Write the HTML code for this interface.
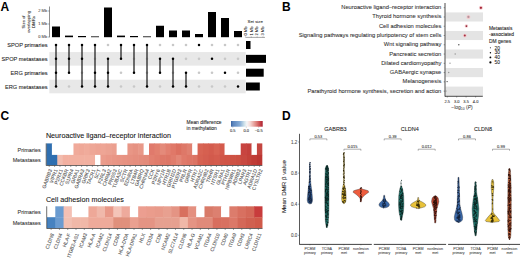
<!DOCTYPE html>
<html><head><meta charset="utf-8"><style>
html,body{margin:0;padding:0;background:#fff;width:520px;height:260px;overflow:hidden;}
body{position:relative;font-family:"Liberation Sans", sans-serif;}
text{font-family:"Liberation Sans", sans-serif;}
</style></head><body>
<svg width="520" height="260" viewBox="0 0 520 260" style="position:absolute;left:0;top:0"><text x="0.50" y="10.80" font-size="12" text-anchor="start" fill="#000" font-weight="bold">A</text>
<text x="282.00" y="11.10" font-size="12" text-anchor="start" fill="#000" font-weight="bold">B</text>
<text x="0.40" y="120.00" font-size="12" text-anchor="start" fill="#000" font-weight="bold">C</text>
<text x="282.00" y="119.80" font-size="12" text-anchor="start" fill="#000" font-weight="bold">D</text>
<line x1="49.50" y1="6.50" x2="49.50" y2="37.30" stroke="#222" stroke-width="0.5"/>
<line x1="47.90" y1="11.00" x2="49.50" y2="11.00" stroke="#333" stroke-width="0.4"/>
<text x="47.20" y="12.44" font-size="4" text-anchor="end" fill="#4d4d4d" stroke="#4d4d4d" stroke-width="0.08">2 Mb</text>
<line x1="47.90" y1="24.00" x2="49.50" y2="24.00" stroke="#333" stroke-width="0.4"/>
<text x="47.20" y="25.44" font-size="4" text-anchor="end" fill="#4d4d4d" stroke="#4d4d4d" stroke-width="0.08">1 Mb</text>
<line x1="47.90" y1="37.00" x2="49.50" y2="37.00" stroke="#333" stroke-width="0.4"/>
<text x="47.20" y="38.44" font-size="4" text-anchor="end" fill="#4d4d4d" stroke="#4d4d4d" stroke-width="0.08">0 Mb</text>
<text x="24.80" y="22.00" font-size="4.3" text-anchor="middle" fill="#333" stroke="#333" stroke-width="0.08" transform="rotate(-90 24.80 22.00)">Size of</text>
<text x="29.90" y="22.00" font-size="4.3" text-anchor="middle" fill="#333" stroke="#333" stroke-width="0.08" transform="rotate(-90 29.90 22.00)">overlapping</text>
<text x="35.40" y="22.00" font-size="4.3" text-anchor="middle" fill="#333" stroke="#333" stroke-width="0.08" transform="rotate(-90 35.40 22.00)">DMRs</text>
<rect x="52.00" y="26.50" width="8.00" height="10.70" fill="#000"/>
<rect x="65.00" y="35.60" width="8.00" height="1.60" fill="#000"/>
<rect x="78.00" y="36.00" width="8.00" height="1.20" fill="#000"/>
<rect x="91.00" y="36.40" width="8.00" height="0.80" fill="#000"/>
<rect x="104.00" y="7.50" width="8.00" height="29.70" fill="#000"/>
<rect x="117.00" y="35.60" width="8.00" height="1.60" fill="#000"/>
<rect x="130.00" y="36.00" width="8.00" height="1.20" fill="#000"/>
<rect x="143.00" y="36.40" width="8.00" height="0.80" fill="#000"/>
<rect x="156.00" y="25.75" width="8.00" height="11.45" fill="#000"/>
<rect x="169.00" y="30.50" width="8.00" height="6.70" fill="#000"/>
<rect x="182.00" y="30.50" width="8.00" height="6.70" fill="#000"/>
<rect x="195.00" y="34.00" width="8.00" height="3.20" fill="#000"/>
<rect x="208.00" y="12.00" width="8.00" height="25.20" fill="#000"/>
<rect x="221.00" y="18.00" width="8.00" height="19.20" fill="#000"/>
<rect x="234.00" y="31.00" width="8.00" height="6.20" fill="#000"/>
<rect x="49.30" y="52.05" width="196.40" height="13.60" fill="#e8e8e8"/>
<rect x="49.30" y="79.70" width="196.40" height="13.60" fill="#e8e8e8"/>
<line x1="56.00" y1="45.00" x2="56.00" y2="86.50" stroke="#1e1e1e" stroke-width="1.25"/>
<circle cx="56.00" cy="45.00" r="1.25" fill="#000"/>
<circle cx="56.00" cy="58.85" r="1.25" fill="#000"/>
<circle cx="56.00" cy="72.70" r="1.25" fill="#000"/>
<circle cx="56.00" cy="86.50" r="1.25" fill="#000"/>
<circle cx="69.00" cy="86.50" r="1.30" fill="#c8c8c8"/>
<line x1="69.00" y1="45.00" x2="69.00" y2="72.70" stroke="#1e1e1e" stroke-width="1.25"/>
<circle cx="69.00" cy="45.00" r="1.25" fill="#000"/>
<circle cx="69.00" cy="58.85" r="1.25" fill="#000"/>
<circle cx="69.00" cy="72.70" r="1.25" fill="#000"/>
<circle cx="82.00" cy="72.70" r="1.30" fill="#c8c8c8"/>
<line x1="82.00" y1="45.00" x2="82.00" y2="86.50" stroke="#1e1e1e" stroke-width="1.25"/>
<circle cx="82.00" cy="45.00" r="1.25" fill="#000"/>
<circle cx="82.00" cy="58.85" r="1.25" fill="#000"/>
<circle cx="82.00" cy="86.50" r="1.25" fill="#000"/>
<circle cx="95.00" cy="58.85" r="1.30" fill="#c8c8c8"/>
<line x1="95.00" y1="45.00" x2="95.00" y2="86.50" stroke="#1e1e1e" stroke-width="1.25"/>
<circle cx="95.00" cy="45.00" r="1.25" fill="#000"/>
<circle cx="95.00" cy="72.70" r="1.25" fill="#000"/>
<circle cx="95.00" cy="86.50" r="1.25" fill="#000"/>
<circle cx="108.00" cy="45.00" r="1.30" fill="#c8c8c8"/>
<line x1="108.00" y1="58.85" x2="108.00" y2="86.50" stroke="#1e1e1e" stroke-width="1.25"/>
<circle cx="108.00" cy="58.85" r="1.25" fill="#000"/>
<circle cx="108.00" cy="72.70" r="1.25" fill="#000"/>
<circle cx="108.00" cy="86.50" r="1.25" fill="#000"/>
<circle cx="121.00" cy="72.70" r="1.30" fill="#c8c8c8"/>
<circle cx="121.00" cy="86.50" r="1.30" fill="#c8c8c8"/>
<line x1="121.00" y1="45.00" x2="121.00" y2="58.85" stroke="#1e1e1e" stroke-width="1.25"/>
<circle cx="121.00" cy="45.00" r="1.25" fill="#000"/>
<circle cx="121.00" cy="58.85" r="1.25" fill="#000"/>
<circle cx="134.00" cy="58.85" r="1.30" fill="#c8c8c8"/>
<circle cx="134.00" cy="86.50" r="1.30" fill="#c8c8c8"/>
<line x1="134.00" y1="45.00" x2="134.00" y2="72.70" stroke="#1e1e1e" stroke-width="1.25"/>
<circle cx="134.00" cy="45.00" r="1.25" fill="#000"/>
<circle cx="134.00" cy="72.70" r="1.25" fill="#000"/>
<circle cx="147.00" cy="58.85" r="1.30" fill="#c8c8c8"/>
<circle cx="147.00" cy="72.70" r="1.30" fill="#c8c8c8"/>
<line x1="147.00" y1="45.00" x2="147.00" y2="86.50" stroke="#1e1e1e" stroke-width="1.25"/>
<circle cx="147.00" cy="45.00" r="1.25" fill="#000"/>
<circle cx="147.00" cy="86.50" r="1.25" fill="#000"/>
<circle cx="160.00" cy="45.00" r="1.30" fill="#c8c8c8"/>
<circle cx="160.00" cy="86.50" r="1.30" fill="#c8c8c8"/>
<line x1="160.00" y1="58.85" x2="160.00" y2="72.70" stroke="#1e1e1e" stroke-width="1.25"/>
<circle cx="160.00" cy="58.85" r="1.25" fill="#000"/>
<circle cx="160.00" cy="72.70" r="1.25" fill="#000"/>
<circle cx="173.00" cy="45.00" r="1.30" fill="#c8c8c8"/>
<circle cx="173.00" cy="72.70" r="1.30" fill="#c8c8c8"/>
<line x1="173.00" y1="58.85" x2="173.00" y2="86.50" stroke="#1e1e1e" stroke-width="1.25"/>
<circle cx="173.00" cy="58.85" r="1.25" fill="#000"/>
<circle cx="173.00" cy="86.50" r="1.25" fill="#000"/>
<circle cx="186.00" cy="45.00" r="1.30" fill="#c8c8c8"/>
<circle cx="186.00" cy="58.85" r="1.30" fill="#c8c8c8"/>
<line x1="186.00" y1="72.70" x2="186.00" y2="86.50" stroke="#1e1e1e" stroke-width="1.25"/>
<circle cx="186.00" cy="72.70" r="1.25" fill="#000"/>
<circle cx="186.00" cy="86.50" r="1.25" fill="#000"/>
<circle cx="199.00" cy="58.85" r="1.30" fill="#c8c8c8"/>
<circle cx="199.00" cy="72.70" r="1.30" fill="#c8c8c8"/>
<circle cx="199.00" cy="86.50" r="1.30" fill="#c8c8c8"/>
<circle cx="199.00" cy="45.00" r="1.25" fill="#000"/>
<circle cx="212.00" cy="45.00" r="1.30" fill="#c8c8c8"/>
<circle cx="212.00" cy="72.70" r="1.30" fill="#c8c8c8"/>
<circle cx="212.00" cy="86.50" r="1.30" fill="#c8c8c8"/>
<circle cx="212.00" cy="58.85" r="1.25" fill="#000"/>
<circle cx="225.00" cy="45.00" r="1.30" fill="#c8c8c8"/>
<circle cx="225.00" cy="58.85" r="1.30" fill="#c8c8c8"/>
<circle cx="225.00" cy="86.50" r="1.30" fill="#c8c8c8"/>
<circle cx="225.00" cy="72.70" r="1.25" fill="#000"/>
<circle cx="238.00" cy="45.00" r="1.30" fill="#c8c8c8"/>
<circle cx="238.00" cy="58.85" r="1.30" fill="#c8c8c8"/>
<circle cx="238.00" cy="72.70" r="1.30" fill="#c8c8c8"/>
<circle cx="238.00" cy="86.50" r="1.25" fill="#000"/>
<text x="47.60" y="47.03" font-size="5.65" text-anchor="end" fill="#222" stroke="#222" stroke-width="0.08">SPOP primaries</text>
<text x="47.60" y="60.88" font-size="5.65" text-anchor="end" fill="#222" stroke="#222" stroke-width="0.08">SPOP metastases</text>
<text x="47.60" y="74.73" font-size="5.65" text-anchor="end" fill="#222" stroke="#222" stroke-width="0.08">ERG primaries</text>
<text x="47.60" y="88.53" font-size="5.65" text-anchor="end" fill="#222" stroke="#222" stroke-width="0.08">ERG metastases</text>
<rect x="246.00" y="41.00" width="4.50" height="8.00" fill="#000"/>
<rect x="246.00" y="54.85" width="20.00" height="8.00" fill="#000"/>
<rect x="246.00" y="68.70" width="17.70" height="8.00" fill="#000"/>
<rect x="246.00" y="82.50" width="13.80" height="8.00" fill="#000"/>
<line x1="245.60" y1="37.40" x2="265.00" y2="37.40" stroke="#222" stroke-width="0.4"/>
<line x1="245.40" y1="36.40" x2="245.40" y2="37.40" stroke="#222" stroke-width="0.3"/>
<text x="246.80" y="35.60" font-size="4.1" text-anchor="start" fill="#333" stroke="#333" stroke-width="0.08" transform="rotate(-90 246.80 35.60)">0 Mb</text>
<line x1="251.25" y1="36.40" x2="251.25" y2="37.40" stroke="#222" stroke-width="0.3"/>
<text x="252.65" y="35.60" font-size="4.1" text-anchor="start" fill="#333" stroke="#333" stroke-width="0.08" transform="rotate(-90 252.65 35.60)">1 Mb</text>
<line x1="257.10" y1="36.40" x2="257.10" y2="37.40" stroke="#222" stroke-width="0.3"/>
<text x="258.50" y="35.60" font-size="4.1" text-anchor="start" fill="#333" stroke="#333" stroke-width="0.08" transform="rotate(-90 258.50 35.60)">2 Mb</text>
<line x1="262.95" y1="36.40" x2="262.95" y2="37.40" stroke="#222" stroke-width="0.3"/>
<text x="264.35" y="35.60" font-size="4.1" text-anchor="start" fill="#333" stroke="#333" stroke-width="0.08" transform="rotate(-90 264.35 35.60)">3 Mb</text>
<text x="247.60" y="22.64" font-size="4.27" text-anchor="start" fill="#333" stroke="#333" stroke-width="0.08">Set size</text>
<rect x="445.40" y="12.42" width="37.60" height="9.10" fill="#e4e4e4"/>
<rect x="445.40" y="30.96" width="37.60" height="9.10" fill="#e4e4e4"/>
<rect x="445.40" y="49.50" width="37.60" height="9.10" fill="#e4e4e4"/>
<rect x="445.40" y="68.04" width="37.60" height="9.10" fill="#e4e4e4"/>
<rect x="445.40" y="86.58" width="37.60" height="9.62" fill="#e4e4e4"/>
<text x="441.30" y="9.17" font-size="5.75" text-anchor="end" fill="#333" stroke="#333" stroke-width="0.08">Neuroactive ligand–receptor interaction</text>
<line x1="443.60" y1="7.70" x2="445.00" y2="7.70" stroke="#333" stroke-width="0.4"/>
<text x="441.30" y="18.44" font-size="5.75" text-anchor="end" fill="#333" stroke="#333" stroke-width="0.08">Thyroid hormone synthesis</text>
<line x1="443.60" y1="16.97" x2="445.00" y2="16.97" stroke="#333" stroke-width="0.4"/>
<text x="441.30" y="27.71" font-size="5.75" text-anchor="end" fill="#333" stroke="#333" stroke-width="0.08">Cell adhesion molecules</text>
<line x1="443.60" y1="26.24" x2="445.00" y2="26.24" stroke="#333" stroke-width="0.4"/>
<text x="441.30" y="36.98" font-size="5.75" text-anchor="end" fill="#333" stroke="#333" stroke-width="0.08">Signaling pathways regulating pluripotency of stem cells</text>
<line x1="443.60" y1="35.51" x2="445.00" y2="35.51" stroke="#333" stroke-width="0.4"/>
<text x="441.30" y="46.25" font-size="5.75" text-anchor="end" fill="#333" stroke="#333" stroke-width="0.08">Wnt signaling pathway</text>
<line x1="443.60" y1="44.78" x2="445.00" y2="44.78" stroke="#333" stroke-width="0.4"/>
<text x="441.30" y="55.52" font-size="5.75" text-anchor="end" fill="#333" stroke="#333" stroke-width="0.08">Pancreatic secretion</text>
<line x1="443.60" y1="54.05" x2="445.00" y2="54.05" stroke="#333" stroke-width="0.4"/>
<text x="441.30" y="64.79" font-size="5.75" text-anchor="end" fill="#333" stroke="#333" stroke-width="0.08">Dilated cardiomyopathy</text>
<line x1="443.60" y1="63.32" x2="445.00" y2="63.32" stroke="#333" stroke-width="0.4"/>
<text x="441.30" y="74.06" font-size="5.75" text-anchor="end" fill="#333" stroke="#333" stroke-width="0.08">GABAergic synapse</text>
<line x1="443.60" y1="72.59" x2="445.00" y2="72.59" stroke="#333" stroke-width="0.4"/>
<text x="441.30" y="83.33" font-size="5.75" text-anchor="end" fill="#333" stroke="#333" stroke-width="0.08">Melanogenesis</text>
<line x1="443.60" y1="81.86" x2="445.00" y2="81.86" stroke="#333" stroke-width="0.4"/>
<text x="441.30" y="92.60" font-size="5.75" text-anchor="end" fill="#333" stroke="#333" stroke-width="0.08">Parathyroid hormone synthesis, secretion and action</text>
<line x1="443.60" y1="91.13" x2="445.00" y2="91.13" stroke="#333" stroke-width="0.4"/>
<line x1="445.00" y1="3.00" x2="445.00" y2="96.60" stroke="#111" stroke-width="0.75"/>
<line x1="445.00" y1="96.30" x2="482.80" y2="96.30" stroke="#111" stroke-width="0.75"/>
<line x1="447.30" y1="96.20" x2="447.30" y2="97.60" stroke="#333" stroke-width="0.4"/>
<text x="447.30" y="102.84" font-size="4.0" text-anchor="middle" fill="#333" stroke="#333" stroke-width="0.08">2.5</text>
<line x1="456.70" y1="96.20" x2="456.70" y2="97.60" stroke="#333" stroke-width="0.4"/>
<text x="456.70" y="102.84" font-size="4.0" text-anchor="middle" fill="#333" stroke="#333" stroke-width="0.08">3.0</text>
<line x1="466.10" y1="96.20" x2="466.10" y2="97.60" stroke="#333" stroke-width="0.4"/>
<text x="466.10" y="102.84" font-size="4.0" text-anchor="middle" fill="#333" stroke="#333" stroke-width="0.08">3.5</text>
<line x1="475.60" y1="96.20" x2="475.60" y2="97.60" stroke="#333" stroke-width="0.4"/>
<text x="475.60" y="102.84" font-size="4.0" text-anchor="middle" fill="#333" stroke="#333" stroke-width="0.08">4.0</text>
<text x="462" y="109.10" font-size="5" text-anchor="middle" fill="#222">−log<tspan font-size="3.4" dy="1">10</tspan><tspan dy="-1"> (</tspan><tspan font-style="italic">P</tspan>)</text>
<circle cx="480.90" cy="7.80" r="2.00" fill="#f4c8cc"/>
<circle cx="468.40" cy="16.90" r="2.00" fill="#f4c8cc"/>
<circle cx="466.40" cy="26.10" r="1.75" fill="#f4c8cc"/>
<circle cx="464.80" cy="35.60" r="1.90" fill="#f4c8cc"/>
<circle cx="480.90" cy="7.80" r="1.10" fill="#a42636"/>
<circle cx="468.40" cy="16.90" r="1.10" fill="#b4949c"/>
<circle cx="466.40" cy="26.10" r="0.85" fill="#8c2232"/>
<circle cx="464.80" cy="35.60" r="1.00" fill="#a03040"/>
<circle cx="458.80" cy="44.80" r="0.75" fill="#555"/>
<circle cx="455.20" cy="54.00" r="0.75" fill="#999"/>
<circle cx="450.00" cy="63.20" r="0.65" fill="#888"/>
<circle cx="448.70" cy="72.50" r="0.75" fill="#999"/>
<circle cx="447.10" cy="81.60" r="0.60" fill="#333"/>
<circle cx="446.00" cy="91.00" r="0.50" fill="#666"/>
<text x="489.00" y="29.76" font-size="4.9" text-anchor="start" fill="#222" stroke="#222" stroke-width="0.08">Metastasis</text>
<text x="489.00" y="35.56" font-size="4.9" text-anchor="start" fill="#222" stroke="#222" stroke-width="0.08">-associated</text>
<text x="489.00" y="42.66" font-size="4.9" text-anchor="start" fill="#222" stroke="#222" stroke-width="0.08">DM genes</text>
<circle cx="490.40" cy="47.80" r="0.50" fill="#000"/>
<text x="494.60" y="49.56" font-size="4.9" text-anchor="start" fill="#222" stroke="#222" stroke-width="0.08">20</text>
<circle cx="490.40" cy="52.70" r="0.70" fill="#000"/>
<text x="494.60" y="54.46" font-size="4.9" text-anchor="start" fill="#222" stroke="#222" stroke-width="0.08">30</text>
<circle cx="490.40" cy="57.40" r="0.90" fill="#000"/>
<text x="494.60" y="59.16" font-size="4.9" text-anchor="start" fill="#222" stroke="#222" stroke-width="0.08">40</text>
<circle cx="490.40" cy="62.40" r="1.10" fill="#000"/>
<text x="494.60" y="64.16" font-size="4.9" text-anchor="start" fill="#222" stroke="#222" stroke-width="0.08">50</text>
<text x="186.60" y="123.56" font-size="4.9" text-anchor="start" fill="#222" stroke="#222" stroke-width="0.08">Mean difference</text>
<text x="186.60" y="130.16" font-size="4.9" text-anchor="start" fill="#222" stroke="#222" stroke-width="0.08">in methylation</text>
<defs><linearGradient id="gr" x1="0" x2="1" y1="0" y2="0"><stop offset="0" stop-color="#3a62a0"/><stop offset="0.06" stop-color="#5a84bc"/><stop offset="0.28" stop-color="#86acd6"/><stop offset="0.42" stop-color="#cfe2ea"/><stop offset="0.5" stop-color="#f6f6f8"/><stop offset="0.6" stop-color="#f6dcd8"/><stop offset="0.78" stop-color="#e08a84"/><stop offset="0.92" stop-color="#c84448"/><stop offset="1" stop-color="#a82030"/></linearGradient></defs>
<rect x="231.00" y="121.00" width="31.70" height="5.70" fill="url(#gr)"/>
<line x1="232.80" y1="126.70" x2="232.80" y2="127.60" stroke="#333" stroke-width="0.3"/>
<text x="232.80" y="132.24" font-size="4.0" text-anchor="middle" fill="#333" stroke="#333" stroke-width="0.08">0.5</text>
<line x1="246.30" y1="126.70" x2="246.30" y2="127.60" stroke="#333" stroke-width="0.3"/>
<text x="246.30" y="132.24" font-size="4.0" text-anchor="middle" fill="#333" stroke="#333" stroke-width="0.08">0.0</text>
<line x1="258.70" y1="126.70" x2="258.70" y2="127.60" stroke="#333" stroke-width="0.3"/>
<text x="258.70" y="132.24" font-size="4.0" text-anchor="middle" fill="#333" stroke="#333" stroke-width="0.08">−0.5</text>
<rect x="46.50" y="143.40" width="6.00" height="11.80" fill="#2f6fb0"/>
<rect x="46.50" y="154.90" width="6.00" height="10.30" fill="#2f6fb0"/>
<rect x="51.90" y="143.40" width="6.00" height="11.80" fill="#ffffff"/>
<rect x="51.90" y="154.90" width="6.00" height="10.30" fill="#2f6fb0"/>
<rect x="57.29" y="143.40" width="6.00" height="11.80" fill="#ffffff"/>
<rect x="57.29" y="154.90" width="6.00" height="10.30" fill="#f2bcae"/>
<rect x="62.69" y="143.40" width="6.00" height="11.80" fill="#ffffff"/>
<rect x="62.69" y="154.90" width="6.00" height="10.30" fill="#f2b0a0"/>
<rect x="68.08" y="143.40" width="6.00" height="11.80" fill="#ffffff"/>
<rect x="68.08" y="154.90" width="6.00" height="10.30" fill="#f2b0a0"/>
<rect x="73.47" y="143.40" width="6.00" height="11.80" fill="#f0aa9a"/>
<rect x="73.47" y="154.90" width="6.00" height="10.30" fill="#f2b0a0"/>
<rect x="78.87" y="143.40" width="6.00" height="11.80" fill="#efa898"/>
<rect x="78.87" y="154.90" width="6.00" height="10.30" fill="#f2b0a0"/>
<rect x="84.27" y="143.40" width="6.00" height="11.80" fill="#f0ab9b"/>
<rect x="84.27" y="154.90" width="6.00" height="10.30" fill="#f2b0a0"/>
<rect x="89.66" y="143.40" width="6.00" height="11.80" fill="#eea696"/>
<rect x="89.66" y="154.90" width="6.00" height="10.30" fill="#f2b0a0"/>
<rect x="95.06" y="143.40" width="6.00" height="11.80" fill="#eda393"/>
<rect x="95.06" y="154.90" width="6.00" height="10.30" fill="#ffffff"/>
<rect x="100.45" y="143.40" width="6.00" height="11.80" fill="#eea595"/>
<rect x="100.45" y="154.90" width="6.00" height="10.30" fill="#eb9c8c"/>
<rect x="105.84" y="143.40" width="6.00" height="11.80" fill="#eca292"/>
<rect x="105.84" y="154.90" width="6.00" height="10.30" fill="#ea9888"/>
<rect x="111.24" y="143.40" width="6.00" height="11.80" fill="#eb9f8f"/>
<rect x="111.24" y="154.90" width="6.00" height="10.30" fill="#e99686"/>
<rect x="116.64" y="143.40" width="6.00" height="11.80" fill="#ffffff"/>
<rect x="116.64" y="154.90" width="6.00" height="10.30" fill="#e89484"/>
<rect x="122.03" y="143.40" width="6.00" height="11.80" fill="#ffffff"/>
<rect x="122.03" y="154.90" width="6.00" height="10.30" fill="#e79282"/>
<rect x="127.43" y="143.40" width="6.00" height="11.80" fill="#e89686"/>
<rect x="127.43" y="154.90" width="6.00" height="10.30" fill="#e69080"/>
<rect x="132.82" y="143.40" width="6.00" height="11.80" fill="#e69282"/>
<rect x="132.82" y="154.90" width="6.00" height="10.30" fill="#e58e7e"/>
<rect x="138.22" y="143.40" width="6.00" height="11.80" fill="#e89888"/>
<rect x="138.22" y="154.90" width="6.00" height="10.30" fill="#e48c7c"/>
<rect x="143.61" y="143.40" width="6.00" height="11.80" fill="#ffffff"/>
<rect x="143.61" y="154.90" width="6.00" height="10.30" fill="#e38a7a"/>
<rect x="149.00" y="143.40" width="6.00" height="11.80" fill="#e07a6c"/>
<rect x="149.00" y="154.90" width="6.00" height="10.30" fill="#e28070"/>
<rect x="154.40" y="143.40" width="6.00" height="11.80" fill="#e2806f"/>
<rect x="154.40" y="154.90" width="6.00" height="10.30" fill="#e07c6c"/>
<rect x="159.80" y="143.40" width="6.00" height="11.80" fill="#e48a7a"/>
<rect x="159.80" y="154.90" width="6.00" height="10.30" fill="#de7868"/>
<rect x="165.19" y="143.40" width="6.00" height="11.80" fill="#e28070"/>
<rect x="165.19" y="154.90" width="6.00" height="10.30" fill="#dd7666"/>
<rect x="170.59" y="143.40" width="6.00" height="11.80" fill="#e07868"/>
<rect x="170.59" y="154.90" width="6.00" height="10.30" fill="#e07c6c"/>
<rect x="175.98" y="143.40" width="6.00" height="11.80" fill="#dc7060"/>
<rect x="175.98" y="154.90" width="6.00" height="10.30" fill="#e38676"/>
<rect x="181.38" y="143.40" width="6.00" height="11.80" fill="#de7868"/>
<rect x="181.38" y="154.90" width="6.00" height="10.30" fill="#e07a6a"/>
<rect x="186.77" y="143.40" width="6.00" height="11.80" fill="#e08070"/>
<rect x="186.77" y="154.90" width="6.00" height="10.30" fill="#de7666"/>
<rect x="192.17" y="143.40" width="6.00" height="11.80" fill="#ffffff"/>
<rect x="192.17" y="154.90" width="6.00" height="10.30" fill="#dc7464"/>
<rect x="197.56" y="143.40" width="6.00" height="11.80" fill="#d86454"/>
<rect x="197.56" y="154.90" width="6.00" height="10.30" fill="#d66252"/>
<rect x="202.96" y="143.40" width="6.00" height="11.80" fill="#d66050"/>
<rect x="202.96" y="154.90" width="6.00" height="10.30" fill="#d45e50"/>
<rect x="208.35" y="143.40" width="6.00" height="11.80" fill="#d45c4e"/>
<rect x="208.35" y="154.90" width="6.00" height="10.30" fill="#d25a4c"/>
<rect x="213.75" y="143.40" width="6.00" height="11.80" fill="#d86454"/>
<rect x="213.75" y="154.90" width="6.00" height="10.30" fill="#d45c4e"/>
<rect x="219.14" y="143.40" width="6.00" height="11.80" fill="#d45a4c"/>
<rect x="219.14" y="154.90" width="6.00" height="10.30" fill="#d05648"/>
<rect x="224.54" y="143.40" width="6.00" height="11.80" fill="#ffffff"/>
<rect x="224.54" y="154.90" width="6.00" height="10.30" fill="#d05446"/>
<rect x="229.93" y="143.40" width="6.00" height="11.80" fill="#ffffff"/>
<rect x="229.93" y="154.90" width="6.00" height="10.30" fill="#ce5244"/>
<rect x="235.33" y="143.40" width="6.00" height="11.80" fill="#ffffff"/>
<rect x="235.33" y="154.90" width="6.00" height="10.30" fill="#cc5042"/>
<rect x="240.72" y="143.40" width="6.00" height="11.80" fill="#c84440"/>
<rect x="240.72" y="154.90" width="6.00" height="10.30" fill="#c84840"/>
<rect x="246.12" y="143.40" width="6.00" height="11.80" fill="#c4403c"/>
<rect x="246.12" y="154.90" width="6.00" height="10.30" fill="#c4423a"/>
<rect x="251.51" y="143.40" width="6.00" height="11.80" fill="#ffffff"/>
<rect x="251.51" y="154.90" width="6.00" height="10.30" fill="#c03c36"/>
<rect x="256.91" y="143.40" width="5.40" height="11.80" fill="#c44640"/>
<rect x="256.91" y="154.90" width="5.40" height="10.30" fill="#bc3632"/>
<line x1="46.20" y1="143.40" x2="46.20" y2="165.50" stroke="#111" stroke-width="0.6"/>
<line x1="46.20" y1="165.50" x2="262.30" y2="165.50" stroke="#111" stroke-width="0.6"/>
<line x1="49.20" y1="165.50" x2="49.20" y2="167.00" stroke="#333" stroke-width="0.45"/>
<text x="52.20" y="169.90" font-size="5.0" text-anchor="end" fill="#555" stroke="#555" stroke-width="0.08" transform="rotate(-70 52.20 169.90)">GABRB3</text>
<line x1="54.59" y1="165.50" x2="54.59" y2="167.00" stroke="#333" stroke-width="0.45"/>
<text x="57.59" y="169.90" font-size="5.0" text-anchor="end" fill="#555" stroke="#555" stroke-width="0.08" transform="rotate(-70 57.59 169.90)">VIPR1</text>
<line x1="59.99" y1="165.50" x2="59.99" y2="167.00" stroke="#333" stroke-width="0.45"/>
<text x="62.99" y="169.90" font-size="5.0" text-anchor="end" fill="#555" stroke="#555" stroke-width="0.08" transform="rotate(-70 62.99 169.90)">P2RX1</text>
<line x1="65.38" y1="165.50" x2="65.38" y2="167.00" stroke="#333" stroke-width="0.45"/>
<text x="68.38" y="169.90" font-size="5.0" text-anchor="end" fill="#555" stroke="#555" stroke-width="0.08" transform="rotate(-70 68.38 169.90)">CCKBR</text>
<line x1="70.78" y1="165.50" x2="70.78" y2="167.00" stroke="#333" stroke-width="0.45"/>
<text x="73.78" y="169.90" font-size="5.0" text-anchor="end" fill="#555" stroke="#555" stroke-width="0.08" transform="rotate(-70 73.78 169.90)">S1PR4</text>
<line x1="76.17" y1="165.50" x2="76.17" y2="167.00" stroke="#333" stroke-width="0.45"/>
<text x="79.17" y="169.90" font-size="5.0" text-anchor="end" fill="#555" stroke="#555" stroke-width="0.08" transform="rotate(-70 79.17 169.90)">GRIA1</text>
<line x1="81.57" y1="165.50" x2="81.57" y2="167.00" stroke="#333" stroke-width="0.45"/>
<text x="84.57" y="169.90" font-size="5.0" text-anchor="end" fill="#555" stroke="#555" stroke-width="0.08" transform="rotate(-70 84.57 169.90)">GABRA3</text>
<line x1="86.96" y1="165.50" x2="86.96" y2="167.00" stroke="#333" stroke-width="0.45"/>
<text x="89.96" y="169.90" font-size="5.0" text-anchor="end" fill="#555" stroke="#555" stroke-width="0.08" transform="rotate(-70 89.96 169.90)">GRIK3</text>
<line x1="92.36" y1="165.50" x2="92.36" y2="167.00" stroke="#333" stroke-width="0.45"/>
<text x="95.36" y="169.90" font-size="5.0" text-anchor="end" fill="#555" stroke="#555" stroke-width="0.08" transform="rotate(-70 95.36 169.90)">TACR1</text>
<line x1="97.75" y1="165.50" x2="97.75" y2="167.00" stroke="#333" stroke-width="0.45"/>
<text x="100.75" y="169.90" font-size="5.0" text-anchor="end" fill="#555" stroke="#555" stroke-width="0.08" transform="rotate(-70 100.75 169.90)">SCT</text>
<line x1="103.15" y1="165.50" x2="103.15" y2="167.00" stroke="#333" stroke-width="0.45"/>
<text x="106.15" y="169.90" font-size="5.0" text-anchor="end" fill="#555" stroke="#555" stroke-width="0.08" transform="rotate(-70 106.15 169.90)">F2RL3</text>
<line x1="108.54" y1="165.50" x2="108.54" y2="167.00" stroke="#333" stroke-width="0.45"/>
<text x="111.54" y="169.90" font-size="5.0" text-anchor="end" fill="#555" stroke="#555" stroke-width="0.08" transform="rotate(-70 111.54 169.90)">CHRM2</text>
<line x1="113.94" y1="165.50" x2="113.94" y2="167.00" stroke="#333" stroke-width="0.45"/>
<text x="116.94" y="169.90" font-size="5.0" text-anchor="end" fill="#555" stroke="#555" stroke-width="0.08" transform="rotate(-70 116.94 169.90)">PRSS3</text>
<line x1="119.33" y1="165.50" x2="119.33" y2="167.00" stroke="#333" stroke-width="0.45"/>
<text x="122.33" y="169.90" font-size="5.0" text-anchor="end" fill="#555" stroke="#555" stroke-width="0.08" transform="rotate(-70 122.33 169.90)">TUBA3C</text>
<line x1="124.73" y1="165.50" x2="124.73" y2="167.00" stroke="#333" stroke-width="0.45"/>
<text x="127.73" y="169.90" font-size="5.0" text-anchor="end" fill="#555" stroke="#555" stroke-width="0.08" transform="rotate(-70 127.73 169.90)">SCTR</text>
<line x1="130.12" y1="165.50" x2="130.12" y2="167.00" stroke="#333" stroke-width="0.45"/>
<text x="133.12" y="169.90" font-size="5.0" text-anchor="end" fill="#555" stroke="#555" stroke-width="0.08" transform="rotate(-70 133.12 169.90)">EDNRA</text>
<line x1="135.52" y1="165.50" x2="135.52" y2="167.00" stroke="#333" stroke-width="0.45"/>
<text x="138.52" y="169.90" font-size="5.0" text-anchor="end" fill="#555" stroke="#555" stroke-width="0.08" transform="rotate(-70 138.52 169.90)">LTB4R</text>
<line x1="140.91" y1="165.50" x2="140.91" y2="167.00" stroke="#333" stroke-width="0.45"/>
<text x="143.91" y="169.90" font-size="5.0" text-anchor="end" fill="#555" stroke="#555" stroke-width="0.08" transform="rotate(-70 143.91 169.90)">GABRQ</text>
<line x1="146.31" y1="165.50" x2="146.31" y2="167.00" stroke="#333" stroke-width="0.45"/>
<text x="149.31" y="169.90" font-size="5.0" text-anchor="end" fill="#555" stroke="#555" stroke-width="0.08" transform="rotate(-70 149.31 169.90)">CHRNA4</text>
<line x1="151.70" y1="165.50" x2="151.70" y2="167.00" stroke="#333" stroke-width="0.45"/>
<text x="154.70" y="169.90" font-size="5.0" text-anchor="end" fill="#555" stroke="#555" stroke-width="0.08" transform="rotate(-70 154.70 169.90)">CCK</text>
<line x1="157.10" y1="165.50" x2="157.10" y2="167.00" stroke="#333" stroke-width="0.45"/>
<text x="160.10" y="169.90" font-size="5.0" text-anchor="end" fill="#555" stroke="#555" stroke-width="0.08" transform="rotate(-70 160.10 169.90)">P2RY6</text>
<line x1="162.49" y1="165.50" x2="162.49" y2="167.00" stroke="#333" stroke-width="0.45"/>
<text x="165.49" y="169.90" font-size="5.0" text-anchor="end" fill="#555" stroke="#555" stroke-width="0.08" transform="rotate(-70 165.49 169.90)">NPY1R</text>
<line x1="167.89" y1="165.50" x2="167.89" y2="167.00" stroke="#333" stroke-width="0.45"/>
<text x="170.89" y="169.90" font-size="5.0" text-anchor="end" fill="#555" stroke="#555" stroke-width="0.08" transform="rotate(-70 170.89 169.90)">HTR1B</text>
<line x1="173.28" y1="165.50" x2="173.28" y2="167.00" stroke="#333" stroke-width="0.45"/>
<text x="176.28" y="169.90" font-size="5.0" text-anchor="end" fill="#555" stroke="#555" stroke-width="0.08" transform="rotate(-70 176.28 169.90)">GRIN2D</text>
<line x1="178.68" y1="165.50" x2="178.68" y2="167.00" stroke="#333" stroke-width="0.45"/>
<text x="181.68" y="169.90" font-size="5.0" text-anchor="end" fill="#555" stroke="#555" stroke-width="0.08" transform="rotate(-70 181.68 169.90)">PTGER3</text>
<line x1="184.07" y1="165.50" x2="184.07" y2="167.00" stroke="#333" stroke-width="0.45"/>
<text x="187.07" y="169.90" font-size="5.0" text-anchor="end" fill="#555" stroke="#555" stroke-width="0.08" transform="rotate(-70 187.07 169.90)">PRLR</text>
<line x1="189.47" y1="165.50" x2="189.47" y2="167.00" stroke="#333" stroke-width="0.45"/>
<text x="192.47" y="169.90" font-size="5.0" text-anchor="end" fill="#555" stroke="#555" stroke-width="0.08" transform="rotate(-70 192.47 169.90)">GRPR</text>
<line x1="194.86" y1="165.50" x2="194.86" y2="167.00" stroke="#333" stroke-width="0.45"/>
<text x="197.86" y="169.90" font-size="5.0" text-anchor="end" fill="#555" stroke="#555" stroke-width="0.08" transform="rotate(-70 197.86 169.90)">HTR7</text>
<line x1="200.26" y1="165.50" x2="200.26" y2="167.00" stroke="#333" stroke-width="0.45"/>
<text x="203.26" y="169.90" font-size="5.0" text-anchor="end" fill="#555" stroke="#555" stroke-width="0.08" transform="rotate(-70 203.26 169.90)">ADRA2C</text>
<line x1="205.65" y1="165.50" x2="205.65" y2="167.00" stroke="#333" stroke-width="0.45"/>
<text x="208.65" y="169.90" font-size="5.0" text-anchor="end" fill="#555" stroke="#555" stroke-width="0.08" transform="rotate(-70 208.65 169.90)">CHRNB2</text>
<line x1="211.05" y1="165.50" x2="211.05" y2="167.00" stroke="#333" stroke-width="0.45"/>
<text x="214.05" y="169.90" font-size="5.0" text-anchor="end" fill="#555" stroke="#555" stroke-width="0.08" transform="rotate(-70 214.05 169.90)">TRHR</text>
<line x1="216.44" y1="165.50" x2="216.44" y2="167.00" stroke="#333" stroke-width="0.45"/>
<text x="219.44" y="169.90" font-size="5.0" text-anchor="end" fill="#555" stroke="#555" stroke-width="0.08" transform="rotate(-70 219.44 169.90)">NTSR1</text>
<line x1="221.84" y1="165.50" x2="221.84" y2="167.00" stroke="#333" stroke-width="0.45"/>
<text x="224.84" y="169.90" font-size="5.0" text-anchor="end" fill="#555" stroke="#555" stroke-width="0.08" transform="rotate(-70 224.84 169.90)">GLRA1</text>
<line x1="227.23" y1="165.50" x2="227.23" y2="167.00" stroke="#333" stroke-width="0.45"/>
<text x="230.23" y="169.90" font-size="5.0" text-anchor="end" fill="#555" stroke="#555" stroke-width="0.08" transform="rotate(-70 230.23 169.90)">PTH1R</text>
<line x1="232.63" y1="165.50" x2="232.63" y2="167.00" stroke="#333" stroke-width="0.45"/>
<text x="235.63" y="169.90" font-size="5.0" text-anchor="end" fill="#555" stroke="#555" stroke-width="0.08" transform="rotate(-70 235.63 169.90)">NPBWR1</text>
<line x1="238.02" y1="165.50" x2="238.02" y2="167.00" stroke="#333" stroke-width="0.45"/>
<text x="241.02" y="169.90" font-size="5.0" text-anchor="end" fill="#555" stroke="#555" stroke-width="0.08" transform="rotate(-70 241.02 169.90)">ADRB3</text>
<line x1="243.42" y1="165.50" x2="243.42" y2="167.00" stroke="#333" stroke-width="0.45"/>
<text x="246.42" y="169.90" font-size="5.0" text-anchor="end" fill="#555" stroke="#555" stroke-width="0.08" transform="rotate(-70 246.42 169.90)">LPAR3</text>
<line x1="248.81" y1="165.50" x2="248.81" y2="167.00" stroke="#333" stroke-width="0.45"/>
<text x="251.81" y="169.90" font-size="5.0" text-anchor="end" fill="#555" stroke="#555" stroke-width="0.08" transform="rotate(-70 251.81 169.90)">AGTR1</text>
<line x1="254.21" y1="165.50" x2="254.21" y2="167.00" stroke="#333" stroke-width="0.45"/>
<text x="257.21" y="169.90" font-size="5.0" text-anchor="end" fill="#555" stroke="#555" stroke-width="0.08" transform="rotate(-70 257.21 169.90)">ADRA1D</text>
<line x1="259.60" y1="165.50" x2="259.60" y2="167.00" stroke="#333" stroke-width="0.45"/>
<text x="262.60" y="169.90" font-size="5.0" text-anchor="end" fill="#555" stroke="#555" stroke-width="0.08" transform="rotate(-70 262.60 169.90)">CYSLTR2</text>
<text x="45.90" y="138.19" font-size="7.2" text-anchor="start" fill="#111" stroke="#111" stroke-width="0.08">Neuroactive ligand–receptor interaction</text>
<text x="40.80" y="151.98" font-size="5.5" text-anchor="end" fill="#333" stroke="#333" stroke-width="0.08">Primaries</text>
<text x="40.80" y="162.48" font-size="5.5" text-anchor="end" fill="#333" stroke="#333" stroke-width="0.08">Metastases</text>
<rect x="47.00" y="206.30" width="8.89" height="11.20" fill="#ffffff"/>
<rect x="47.00" y="217.20" width="8.89" height="11.00" fill="#4682c0"/>
<rect x="55.29" y="206.30" width="8.89" height="11.20" fill="#6a9bd0"/>
<rect x="55.29" y="217.20" width="8.89" height="11.00" fill="#6a9bd0"/>
<rect x="63.58" y="206.30" width="8.89" height="11.20" fill="#f4c0b4"/>
<rect x="63.58" y="217.20" width="8.89" height="11.00" fill="#f2c0b2"/>
<rect x="71.87" y="206.30" width="8.89" height="11.20" fill="#ffffff"/>
<rect x="71.87" y="217.20" width="8.89" height="11.00" fill="#f0b8a8"/>
<rect x="80.15" y="206.30" width="8.89" height="11.20" fill="#ffffff"/>
<rect x="80.15" y="217.20" width="8.89" height="11.00" fill="#f0b8a8"/>
<rect x="88.44" y="206.30" width="8.89" height="11.20" fill="#eea898"/>
<rect x="88.44" y="217.20" width="8.89" height="11.00" fill="#eeaa9a"/>
<rect x="96.73" y="206.30" width="8.89" height="11.20" fill="#f0b8aa"/>
<rect x="96.73" y="217.20" width="8.89" height="11.00" fill="#eeaa9a"/>
<rect x="105.02" y="206.30" width="8.89" height="11.20" fill="#e89888"/>
<rect x="105.02" y="217.20" width="8.89" height="11.00" fill="#eeaa9a"/>
<rect x="113.31" y="206.30" width="8.89" height="11.20" fill="#f4c4b8"/>
<rect x="113.31" y="217.20" width="8.89" height="11.00" fill="#e0907c"/>
<rect x="121.60" y="206.30" width="8.89" height="11.20" fill="#eeaa9c"/>
<rect x="121.60" y="217.20" width="8.89" height="11.00" fill="#e0907c"/>
<rect x="129.88" y="206.30" width="8.89" height="11.20" fill="#ffffff"/>
<rect x="129.88" y="217.20" width="8.89" height="11.00" fill="#eaa090"/>
<rect x="138.17" y="206.30" width="8.89" height="11.20" fill="#ec9e90"/>
<rect x="138.17" y="217.20" width="8.89" height="11.00" fill="#e49484"/>
<rect x="146.46" y="206.30" width="8.89" height="11.20" fill="#ea9c8c"/>
<rect x="146.46" y="217.20" width="8.89" height="11.00" fill="#e49484"/>
<rect x="154.75" y="206.30" width="8.89" height="11.20" fill="#e89a8a"/>
<rect x="154.75" y="217.20" width="8.89" height="11.00" fill="#e6a090"/>
<rect x="163.04" y="206.30" width="8.89" height="11.20" fill="#e8a090"/>
<rect x="163.04" y="217.20" width="8.89" height="11.00" fill="#e6a090"/>
<rect x="171.33" y="206.30" width="8.89" height="11.20" fill="#e49484"/>
<rect x="171.33" y="217.20" width="8.89" height="11.00" fill="#e6a090"/>
<rect x="179.62" y="206.30" width="8.89" height="11.20" fill="#d8705e"/>
<rect x="179.62" y="217.20" width="8.89" height="11.00" fill="#f0b8a8"/>
<rect x="187.90" y="206.30" width="8.89" height="11.20" fill="#e49080"/>
<rect x="187.90" y="217.20" width="8.89" height="11.00" fill="#e49484"/>
<rect x="196.19" y="206.30" width="8.89" height="11.20" fill="#ffffff"/>
<rect x="196.19" y="217.20" width="8.89" height="11.00" fill="#e08a7a"/>
<rect x="204.48" y="206.30" width="8.89" height="11.20" fill="#d87a68"/>
<rect x="204.48" y="217.20" width="8.89" height="11.00" fill="#e08a7a"/>
<rect x="212.77" y="206.30" width="8.89" height="11.20" fill="#dc8070"/>
<rect x="212.77" y="217.20" width="8.89" height="11.00" fill="#d86e5e"/>
<rect x="221.06" y="206.30" width="8.89" height="11.20" fill="#ffffff"/>
<rect x="221.06" y="217.20" width="8.89" height="11.00" fill="#d87060"/>
<rect x="229.35" y="206.30" width="8.89" height="11.20" fill="#dc7c6c"/>
<rect x="229.35" y="217.20" width="8.89" height="11.00" fill="#dc7868"/>
<rect x="237.63" y="206.30" width="8.89" height="11.20" fill="#d87060"/>
<rect x="237.63" y="217.20" width="8.89" height="11.00" fill="#d46858"/>
<rect x="245.92" y="206.30" width="8.89" height="11.20" fill="#d46858"/>
<rect x="245.92" y="217.20" width="8.89" height="11.00" fill="#d06050"/>
<rect x="254.21" y="206.30" width="8.29" height="11.20" fill="#c83c3c"/>
<rect x="254.21" y="217.20" width="8.29" height="11.00" fill="#d05a4a"/>
<line x1="46.70" y1="206.30" x2="46.70" y2="228.50" stroke="#111" stroke-width="0.6"/>
<line x1="46.70" y1="228.50" x2="262.50" y2="228.50" stroke="#111" stroke-width="0.6"/>
<line x1="51.14" y1="228.50" x2="51.14" y2="230.00" stroke="#333" stroke-width="0.45"/>
<text x="54.14" y="234.00" font-size="5.0" text-anchor="end" fill="#555" stroke="#555" stroke-width="0.08" transform="rotate(-70 54.14 234.00)">CLDN8</text>
<line x1="59.43" y1="228.50" x2="59.43" y2="230.00" stroke="#333" stroke-width="0.45"/>
<text x="62.43" y="234.00" font-size="5.0" text-anchor="end" fill="#555" stroke="#555" stroke-width="0.08" transform="rotate(-70 62.43 234.00)">CLDN4</text>
<line x1="67.72" y1="228.50" x2="67.72" y2="230.00" stroke="#333" stroke-width="0.45"/>
<text x="70.72" y="234.00" font-size="5.0" text-anchor="end" fill="#555" stroke="#555" stroke-width="0.08" transform="rotate(-70 70.72 234.00)">HLA-F</text>
<line x1="76.01" y1="228.50" x2="76.01" y2="230.00" stroke="#333" stroke-width="0.45"/>
<text x="79.01" y="234.00" font-size="5.0" text-anchor="end" fill="#555" stroke="#555" stroke-width="0.08" transform="rotate(-70 79.01 234.00)">ITGB2-AS1</text>
<line x1="84.30" y1="228.50" x2="84.30" y2="230.00" stroke="#333" stroke-width="0.45"/>
<text x="87.30" y="234.00" font-size="5.0" text-anchor="end" fill="#555" stroke="#555" stroke-width="0.08" transform="rotate(-70 87.30 234.00)">ICAM3</text>
<line x1="92.59" y1="228.50" x2="92.59" y2="230.00" stroke="#333" stroke-width="0.45"/>
<text x="95.59" y="234.00" font-size="5.0" text-anchor="end" fill="#555" stroke="#555" stroke-width="0.08" transform="rotate(-70 95.59 234.00)">HLA-A</text>
<line x1="100.88" y1="228.50" x2="100.88" y2="230.00" stroke="#333" stroke-width="0.45"/>
<text x="103.88" y="234.00" font-size="5.0" text-anchor="end" fill="#555" stroke="#555" stroke-width="0.08" transform="rotate(-70 103.88 234.00)">ICAM2</text>
<line x1="109.16" y1="228.50" x2="109.16" y2="230.00" stroke="#333" stroke-width="0.45"/>
<text x="112.16" y="234.00" font-size="5.0" text-anchor="end" fill="#555" stroke="#555" stroke-width="0.08" transform="rotate(-70 112.16 234.00)">CLDN14</text>
<line x1="117.45" y1="228.50" x2="117.45" y2="230.00" stroke="#333" stroke-width="0.45"/>
<text x="120.45" y="234.00" font-size="5.0" text-anchor="end" fill="#555" stroke="#555" stroke-width="0.08" transform="rotate(-70 120.45 234.00)">CD8A</text>
<line x1="125.74" y1="228.50" x2="125.74" y2="230.00" stroke="#333" stroke-width="0.45"/>
<text x="128.74" y="234.00" font-size="5.0" text-anchor="end" fill="#555" stroke="#555" stroke-width="0.08" transform="rotate(-70 128.74 234.00)">HLA-DOA</text>
<line x1="134.03" y1="228.50" x2="134.03" y2="230.00" stroke="#333" stroke-width="0.45"/>
<text x="137.03" y="234.00" font-size="5.0" text-anchor="end" fill="#555" stroke="#555" stroke-width="0.08" transform="rotate(-70 137.03 234.00)">HLA-DPA1</text>
<line x1="142.32" y1="228.50" x2="142.32" y2="230.00" stroke="#333" stroke-width="0.45"/>
<text x="145.32" y="234.00" font-size="5.0" text-anchor="end" fill="#555" stroke="#555" stroke-width="0.08" transform="rotate(-70 145.32 234.00)">HLX</text>
<line x1="150.61" y1="228.50" x2="150.61" y2="230.00" stroke="#333" stroke-width="0.45"/>
<text x="153.61" y="234.00" font-size="5.0" text-anchor="end" fill="#555" stroke="#555" stroke-width="0.08" transform="rotate(-70 153.61 234.00)">CD34</text>
<line x1="158.89" y1="228.50" x2="158.89" y2="230.00" stroke="#333" stroke-width="0.45"/>
<text x="161.89" y="234.00" font-size="5.0" text-anchor="end" fill="#555" stroke="#555" stroke-width="0.08" transform="rotate(-70 161.89 234.00)">CD6</text>
<line x1="167.18" y1="228.50" x2="167.18" y2="230.00" stroke="#333" stroke-width="0.45"/>
<text x="170.18" y="234.00" font-size="5.0" text-anchor="end" fill="#555" stroke="#555" stroke-width="0.08" transform="rotate(-70 170.18 234.00)">NCAM2</text>
<line x1="175.47" y1="228.50" x2="175.47" y2="230.00" stroke="#333" stroke-width="0.45"/>
<text x="178.47" y="234.00" font-size="5.0" text-anchor="end" fill="#555" stroke="#555" stroke-width="0.08" transform="rotate(-70 178.47 234.00)">SLC7A14</text>
<line x1="183.76" y1="228.50" x2="183.76" y2="230.00" stroke="#333" stroke-width="0.45"/>
<text x="186.76" y="234.00" font-size="5.0" text-anchor="end" fill="#555" stroke="#555" stroke-width="0.08" transform="rotate(-70 186.76 234.00)">CLDN6</text>
<line x1="192.05" y1="228.50" x2="192.05" y2="230.00" stroke="#333" stroke-width="0.45"/>
<text x="195.05" y="234.00" font-size="5.0" text-anchor="end" fill="#555" stroke="#555" stroke-width="0.08" transform="rotate(-70 195.05 234.00)">HLA-G</text>
<line x1="200.34" y1="228.50" x2="200.34" y2="230.00" stroke="#333" stroke-width="0.45"/>
<text x="203.34" y="234.00" font-size="5.0" text-anchor="end" fill="#555" stroke="#555" stroke-width="0.08" transform="rotate(-70 203.34 234.00)">VCAM1</text>
<line x1="208.62" y1="228.50" x2="208.62" y2="230.00" stroke="#333" stroke-width="0.45"/>
<text x="211.62" y="234.00" font-size="5.0" text-anchor="end" fill="#555" stroke="#555" stroke-width="0.08" transform="rotate(-70 211.62 234.00)">ITGA4</text>
<line x1="216.91" y1="228.50" x2="216.91" y2="230.00" stroke="#333" stroke-width="0.45"/>
<text x="219.91" y="234.00" font-size="5.0" text-anchor="end" fill="#555" stroke="#555" stroke-width="0.08" transform="rotate(-70 219.91 234.00)">CLDN10</text>
<line x1="225.20" y1="228.50" x2="225.20" y2="230.00" stroke="#333" stroke-width="0.45"/>
<text x="228.20" y="234.00" font-size="5.0" text-anchor="end" fill="#555" stroke="#555" stroke-width="0.08" transform="rotate(-70 228.20 234.00)">CD40</text>
<line x1="233.49" y1="228.50" x2="233.49" y2="230.00" stroke="#333" stroke-width="0.45"/>
<text x="236.49" y="234.00" font-size="5.0" text-anchor="end" fill="#555" stroke="#555" stroke-width="0.08" transform="rotate(-70 236.49 234.00)">ITGA9</text>
<line x1="241.78" y1="228.50" x2="241.78" y2="230.00" stroke="#333" stroke-width="0.45"/>
<text x="244.78" y="234.00" font-size="5.0" text-anchor="end" fill="#555" stroke="#555" stroke-width="0.08" transform="rotate(-70 244.78 234.00)">CDH3</text>
<line x1="250.07" y1="228.50" x2="250.07" y2="230.00" stroke="#333" stroke-width="0.45"/>
<text x="253.07" y="234.00" font-size="5.0" text-anchor="end" fill="#555" stroke="#555" stroke-width="0.08" transform="rotate(-70 253.07 234.00)">LRRC4</text>
<line x1="258.36" y1="228.50" x2="258.36" y2="230.00" stroke="#333" stroke-width="0.45"/>
<text x="261.36" y="234.00" font-size="5.0" text-anchor="end" fill="#555" stroke="#555" stroke-width="0.08" transform="rotate(-70 261.36 234.00)">CLDN11</text>
<text x="45.90" y="202.09" font-size="7.2" text-anchor="start" fill="#111" stroke="#111" stroke-width="0.08">Cell adhesion molecules</text>
<text x="40.80" y="214.48" font-size="5.5" text-anchor="end" fill="#333" stroke="#333" stroke-width="0.08">Primaries</text>
<text x="40.80" y="225.48" font-size="5.5" text-anchor="end" fill="#333" stroke="#333" stroke-width="0.08">Metastases</text>
<line x1="299.50" y1="133.80" x2="299.50" y2="244.60" stroke="#111" stroke-width="0.7"/>
<line x1="298.00" y1="142.00" x2="299.50" y2="142.00" stroke="#333" stroke-width="0.4"/>
<text x="297.20" y="143.62" font-size="4.5" text-anchor="end" fill="#4d4d4d" stroke="#4d4d4d" stroke-width="0.08">1.2</text>
<line x1="298.00" y1="173.10" x2="299.50" y2="173.10" stroke="#333" stroke-width="0.4"/>
<text x="297.20" y="174.72" font-size="4.5" text-anchor="end" fill="#4d4d4d" stroke="#4d4d4d" stroke-width="0.08">0.8</text>
<line x1="298.00" y1="204.20" x2="299.50" y2="204.20" stroke="#333" stroke-width="0.4"/>
<text x="297.20" y="205.82" font-size="4.5" text-anchor="end" fill="#4d4d4d" stroke="#4d4d4d" stroke-width="0.08">0.4</text>
<line x1="298.00" y1="235.30" x2="299.50" y2="235.30" stroke="#333" stroke-width="0.4"/>
<text x="297.20" y="236.92" font-size="4.5" text-anchor="end" fill="#4d4d4d" stroke="#4d4d4d" stroke-width="0.08">0.0</text>
<text x="285.50" y="186.50" font-size="6.2" text-anchor="middle" fill="#222" stroke="#222" stroke-width="0.08" transform="rotate(-90 285.50 186.50)">Mean DMR β value</text>
<line x1="299.50" y1="244.40" x2="371.80" y2="244.40" stroke="#111" stroke-width="0.8"/>
<text x="335.50" y="131.18" font-size="5.5" text-anchor="middle" fill="#222" stroke="#222" stroke-width="0.08">GABRB3</text>
<line x1="309.90" y1="244.20" x2="309.90" y2="245.40" stroke="#333" stroke-width="0.35"/>
<text x="309.90" y="250.33" font-size="3.7" text-anchor="middle" fill="#4d4d4d" stroke="#4d4d4d" stroke-width="0.08">PCBM</text>
<text x="309.90" y="253.80" font-size="3.6" text-anchor="middle" fill="#4d4d4d" stroke="#4d4d4d" stroke-width="0.08">primary</text>
<line x1="326.90" y1="244.20" x2="326.90" y2="245.40" stroke="#333" stroke-width="0.35"/>
<text x="326.90" y="250.33" font-size="3.7" text-anchor="middle" fill="#4d4d4d" stroke="#4d4d4d" stroke-width="0.08">TCGA</text>
<text x="326.90" y="253.80" font-size="3.6" text-anchor="middle" fill="#4d4d4d" stroke="#4d4d4d" stroke-width="0.08">primary</text>
<line x1="343.90" y1="244.20" x2="343.90" y2="245.40" stroke="#333" stroke-width="0.35"/>
<text x="343.90" y="250.33" font-size="3.7" text-anchor="middle" fill="#4d4d4d" stroke="#4d4d4d" stroke-width="0.08">PCBM</text>
<text x="343.90" y="253.80" font-size="3.6" text-anchor="middle" fill="#4d4d4d" stroke="#4d4d4d" stroke-width="0.08">met</text>
<line x1="360.90" y1="244.20" x2="360.90" y2="245.40" stroke="#333" stroke-width="0.35"/>
<text x="360.90" y="250.33" font-size="3.7" text-anchor="middle" fill="#4d4d4d" stroke="#4d4d4d" stroke-width="0.08">nonlesion</text>
<text x="360.90" y="253.80" font-size="3.6" text-anchor="middle" fill="#4d4d4d" stroke="#4d4d4d" stroke-width="0.08">met</text>
<path d="M309.90,140.40 L309.90,138.90 L326.90,138.90 L326.90,140.40" fill="none" stroke="#333" stroke-width="0.4"/>
<text x="318.40" y="137.90" font-size="4.0" text-anchor="middle" fill="#333" stroke="#333" stroke-width="0.08">0.53</text>
<path d="M343.90,150.70 L343.90,149.20 L360.90,149.20 L360.90,150.70" fill="none" stroke="#333" stroke-width="0.4"/>
<text x="352.40" y="148.20" font-size="4.0" text-anchor="middle" fill="#333" stroke="#333" stroke-width="0.08">0.015</text>
<line x1="373.80" y1="244.40" x2="446.10" y2="244.40" stroke="#111" stroke-width="0.8"/>
<text x="409.80" y="131.18" font-size="5.5" text-anchor="middle" fill="#222" stroke="#222" stroke-width="0.08">CLDN4</text>
<line x1="384.20" y1="244.20" x2="384.20" y2="245.40" stroke="#333" stroke-width="0.35"/>
<text x="384.20" y="250.33" font-size="3.7" text-anchor="middle" fill="#4d4d4d" stroke="#4d4d4d" stroke-width="0.08">PCBM</text>
<text x="384.20" y="253.80" font-size="3.6" text-anchor="middle" fill="#4d4d4d" stroke="#4d4d4d" stroke-width="0.08">primary</text>
<line x1="401.20" y1="244.20" x2="401.20" y2="245.40" stroke="#333" stroke-width="0.35"/>
<text x="401.20" y="250.33" font-size="3.7" text-anchor="middle" fill="#4d4d4d" stroke="#4d4d4d" stroke-width="0.08">TCGA</text>
<text x="401.20" y="253.80" font-size="3.6" text-anchor="middle" fill="#4d4d4d" stroke="#4d4d4d" stroke-width="0.08">primary</text>
<line x1="418.20" y1="244.20" x2="418.20" y2="245.40" stroke="#333" stroke-width="0.35"/>
<text x="418.20" y="250.33" font-size="3.7" text-anchor="middle" fill="#4d4d4d" stroke="#4d4d4d" stroke-width="0.08">PCBM</text>
<text x="418.20" y="253.80" font-size="3.6" text-anchor="middle" fill="#4d4d4d" stroke="#4d4d4d" stroke-width="0.08">met</text>
<line x1="435.20" y1="244.20" x2="435.20" y2="245.40" stroke="#333" stroke-width="0.35"/>
<text x="435.20" y="250.33" font-size="3.7" text-anchor="middle" fill="#4d4d4d" stroke="#4d4d4d" stroke-width="0.08">nonlesion</text>
<text x="435.20" y="253.80" font-size="3.6" text-anchor="middle" fill="#4d4d4d" stroke="#4d4d4d" stroke-width="0.08">met</text>
<path d="M384.20,140.40 L384.20,138.90 L401.20,138.90 L401.20,140.40" fill="none" stroke="#333" stroke-width="0.4"/>
<text x="392.70" y="137.90" font-size="4.0" text-anchor="middle" fill="#333" stroke="#333" stroke-width="0.08">0.39</text>
<path d="M418.20,150.70 L418.20,149.20 L435.20,149.20 L435.20,150.70" fill="none" stroke="#333" stroke-width="0.4"/>
<text x="426.70" y="148.20" font-size="4.0" text-anchor="middle" fill="#333" stroke="#333" stroke-width="0.08">0.012</text>
<line x1="448.10" y1="244.40" x2="520.00" y2="244.40" stroke="#111" stroke-width="0.8"/>
<text x="483.00" y="131.18" font-size="5.5" text-anchor="middle" fill="#222" stroke="#222" stroke-width="0.08">CLDN8</text>
<line x1="458.50" y1="244.20" x2="458.50" y2="245.40" stroke="#333" stroke-width="0.35"/>
<text x="458.50" y="250.33" font-size="3.7" text-anchor="middle" fill="#4d4d4d" stroke="#4d4d4d" stroke-width="0.08">PCBM</text>
<text x="458.50" y="253.80" font-size="3.6" text-anchor="middle" fill="#4d4d4d" stroke="#4d4d4d" stroke-width="0.08">primary</text>
<line x1="475.50" y1="244.20" x2="475.50" y2="245.40" stroke="#333" stroke-width="0.35"/>
<text x="475.50" y="250.33" font-size="3.7" text-anchor="middle" fill="#4d4d4d" stroke="#4d4d4d" stroke-width="0.08">TCGA</text>
<text x="475.50" y="253.80" font-size="3.6" text-anchor="middle" fill="#4d4d4d" stroke="#4d4d4d" stroke-width="0.08">primary</text>
<line x1="492.50" y1="244.20" x2="492.50" y2="245.40" stroke="#333" stroke-width="0.35"/>
<text x="492.50" y="250.33" font-size="3.7" text-anchor="middle" fill="#4d4d4d" stroke="#4d4d4d" stroke-width="0.08">PCBM</text>
<text x="492.50" y="253.80" font-size="3.6" text-anchor="middle" fill="#4d4d4d" stroke="#4d4d4d" stroke-width="0.08">met</text>
<line x1="509.50" y1="244.20" x2="509.50" y2="245.40" stroke="#333" stroke-width="0.35"/>
<text x="509.50" y="250.33" font-size="3.7" text-anchor="middle" fill="#4d4d4d" stroke="#4d4d4d" stroke-width="0.08">nonlesion</text>
<text x="509.50" y="253.80" font-size="3.6" text-anchor="middle" fill="#4d4d4d" stroke="#4d4d4d" stroke-width="0.08">met</text>
<path d="M458.50,140.40 L458.50,138.90 L475.50,138.90 L475.50,140.40" fill="none" stroke="#333" stroke-width="0.4"/>
<text x="467.00" y="137.90" font-size="4.0" text-anchor="middle" fill="#333" stroke="#333" stroke-width="0.08">0.86</text>
<path d="M492.50,150.70 L492.50,149.20 L509.50,149.20 L509.50,150.70" fill="none" stroke="#333" stroke-width="0.4"/>
<text x="501.00" y="148.20" font-size="4.0" text-anchor="middle" fill="#333" stroke="#333" stroke-width="0.08">0.99</text>
<path d="M309.60,162.40 L309.45,178.00 L308.90,184.00 L308.10,190.00 L307.50,196.00 L307.20,200.00 L307.70,202.60 L309.30,203.80 L310.50,203.80 L312.10,202.60 L312.60,200.00 L312.30,196.00 L311.70,190.00 L310.90,184.00 L310.35,178.00 L310.20,162.40 Z" fill="#3a68a8" stroke="#222" stroke-width="0.35"/>
<circle cx="308.60" cy="188.30" r="0.50" fill="#14223a"/>
<circle cx="309.00" cy="197.07" r="0.50" fill="#14223a"/>
<circle cx="310.37" cy="197.03" r="0.50" fill="#14223a"/>
<circle cx="310.72" cy="198.34" r="0.50" fill="#14223a"/>
<circle cx="310.70" cy="190.20" r="0.50" fill="#14223a"/>
<circle cx="308.80" cy="186.87" r="0.50" fill="#14223a"/>
<circle cx="310.64" cy="198.23" r="0.50" fill="#14223a"/>
<circle cx="311.33" cy="198.78" r="0.50" fill="#14223a"/>
<circle cx="308.66" cy="198.79" r="0.50" fill="#14223a"/>
<circle cx="311.36" cy="199.83" r="0.50" fill="#14223a"/>
<circle cx="311.02" cy="190.19" r="0.50" fill="#14223a"/>
<circle cx="308.95" cy="186.14" r="0.50" fill="#14223a"/>
<circle cx="309.69" cy="179.39" r="0.50" fill="#14223a"/>
<circle cx="311.31" cy="203.00" r="0.50" fill="#14223a"/>
<circle cx="310.00" cy="175.22" r="0.50" fill="#14223a"/>
<circle cx="310.27" cy="168.87" r="0.50" fill="#14223a"/>
<circle cx="309.77" cy="199.52" r="0.50" fill="#14223a"/>
<circle cx="309.22" cy="192.22" r="0.50" fill="#14223a"/>
<circle cx="310.05" cy="202.88" r="0.50" fill="#14223a"/>
<circle cx="310.16" cy="186.41" r="0.50" fill="#14223a"/>
<circle cx="310.25" cy="188.57" r="0.50" fill="#14223a"/>
<circle cx="308.41" cy="192.95" r="0.50" fill="#14223a"/>
<circle cx="309.58" cy="186.94" r="0.50" fill="#14223a"/>
<circle cx="309.61" cy="187.06" r="0.50" fill="#14223a"/>
<circle cx="310.14" cy="194.37" r="0.50" fill="#14223a"/>
<circle cx="308.96" cy="192.84" r="0.50" fill="#14223a"/>
<circle cx="308.84" cy="195.68" r="0.50" fill="#14223a"/>
<circle cx="309.43" cy="181.08" r="0.50" fill="#14223a"/>
<circle cx="310.44" cy="184.33" r="0.50" fill="#14223a"/>
<circle cx="309.15" cy="197.11" r="0.50" fill="#14223a"/>
<circle cx="310.94" cy="195.82" r="0.50" fill="#14223a"/>
<circle cx="309.69" cy="176.69" r="0.50" fill="#14223a"/>
<circle cx="309.38" cy="195.27" r="0.50" fill="#14223a"/>
<circle cx="310.34" cy="168.86" r="0.50" fill="#14223a"/>
<circle cx="310.73" cy="200.79" r="0.50" fill="#14223a"/>
<circle cx="309.96" cy="197.04" r="0.50" fill="#14223a"/>
<circle cx="309.99" cy="171.82" r="0.50" fill="#14223a"/>
<circle cx="310.16" cy="199.52" r="0.50" fill="#14223a"/>
<circle cx="309.64" cy="189.84" r="0.50" fill="#14223a"/>
<circle cx="309.36" cy="201.28" r="0.50" fill="#14223a"/>
<circle cx="309.93" cy="176.97" r="0.50" fill="#14223a"/>
<circle cx="310.89" cy="196.22" r="0.50" fill="#14223a"/>
<circle cx="311.00" cy="200.56" r="0.50" fill="#14223a"/>
<circle cx="309.12" cy="198.11" r="0.50" fill="#14223a"/>
<circle cx="308.39" cy="194.55" r="0.50" fill="#14223a"/>
<circle cx="309.47" cy="167.65" r="0.50" fill="#14223a"/>
<circle cx="309.19" cy="186.69" r="0.50" fill="#14223a"/>
<circle cx="309.96" cy="176.01" r="0.50" fill="#14223a"/>
<circle cx="308.47" cy="192.04" r="0.50" fill="#14223a"/>
<circle cx="309.56" cy="188.19" r="0.50" fill="#14223a"/>
<circle cx="309.95" cy="181.48" r="0.50" fill="#14223a"/>
<circle cx="309.66" cy="191.18" r="0.50" fill="#14223a"/>
<circle cx="311.25" cy="201.17" r="0.50" fill="#14223a"/>
<circle cx="309.78" cy="195.14" r="0.50" fill="#14223a"/>
<circle cx="310.69" cy="195.21" r="0.50" fill="#14223a"/>
<circle cx="310.08" cy="185.74" r="0.50" fill="#14223a"/>
<circle cx="310.17" cy="162.60" r="0.50" fill="#14223a"/>
<circle cx="309.50" cy="164.23" r="0.50" fill="#14223a"/>
<circle cx="308.28" cy="198.85" r="0.50" fill="#14223a"/>
<circle cx="311.07" cy="197.24" r="0.50" fill="#14223a"/>
<circle cx="310.92" cy="201.83" r="0.50" fill="#14223a"/>
<circle cx="309.30" cy="201.09" r="0.50" fill="#14223a"/>
<circle cx="309.65" cy="172.42" r="0.50" fill="#14223a"/>
<circle cx="309.90" cy="179.71" r="0.50" fill="#14223a"/>
<circle cx="310.74" cy="202.68" r="0.50" fill="#14223a"/>
<circle cx="309.96" cy="193.70" r="0.50" fill="#14223a"/>
<circle cx="308.53" cy="199.55" r="0.50" fill="#14223a"/>
<circle cx="309.11" cy="192.16" r="0.50" fill="#14223a"/>
<circle cx="309.25" cy="186.60" r="0.50" fill="#14223a"/>
<circle cx="309.76" cy="178.25" r="0.50" fill="#14223a"/>
<circle cx="309.84" cy="196.41" r="0.50" fill="#14223a"/>
<circle cx="308.98" cy="202.15" r="0.50" fill="#14223a"/>
<circle cx="308.84" cy="197.75" r="0.50" fill="#14223a"/>
<circle cx="310.10" cy="173.11" r="0.50" fill="#14223a"/>
<circle cx="309.07" cy="197.95" r="0.50" fill="#14223a"/>
<circle cx="309.64" cy="198.22" r="0.50" fill="#14223a"/>
<circle cx="308.51" cy="192.58" r="0.50" fill="#14223a"/>
<circle cx="309.41" cy="196.92" r="0.50" fill="#14223a"/>
<circle cx="310.05" cy="201.95" r="0.50" fill="#14223a"/>
<circle cx="311.08" cy="189.95" r="0.50" fill="#14223a"/>
<circle cx="311.40" cy="200.02" r="0.50" fill="#14223a"/>
<circle cx="310.50" cy="193.75" r="0.50" fill="#14223a"/>
<circle cx="310.02" cy="202.20" r="0.50" fill="#14223a"/>
<circle cx="308.90" cy="190.49" r="0.50" fill="#14223a"/>
<circle cx="308.98" cy="189.13" r="0.50" fill="#14223a"/>
<circle cx="308.62" cy="199.24" r="0.50" fill="#14223a"/>
<circle cx="309.33" cy="200.98" r="0.50" fill="#14223a"/>
<circle cx="310.09" cy="192.23" r="0.50" fill="#14223a"/>
<circle cx="309.36" cy="189.21" r="0.50" fill="#14223a"/>
<circle cx="310.12" cy="169.70" r="0.50" fill="#14223a"/>
<circle cx="310.71" cy="193.64" r="0.50" fill="#14223a"/>
<circle cx="311.08" cy="194.35" r="0.50" fill="#14223a"/>
<circle cx="310.18" cy="166.53" r="0.50" fill="#14223a"/>
<circle cx="308.84" cy="192.51" r="0.50" fill="#14223a"/>
<circle cx="310.21" cy="196.17" r="0.50" fill="#14223a"/>
<circle cx="309.37" cy="185.93" r="0.50" fill="#14223a"/>
<circle cx="310.93" cy="194.76" r="0.50" fill="#14223a"/>
<circle cx="309.50" cy="199.30" r="0.50" fill="#14223a"/>
<circle cx="311.05" cy="190.83" r="0.50" fill="#14223a"/>
<circle cx="310.82" cy="192.49" r="0.50" fill="#14223a"/>
<circle cx="309.97" cy="189.80" r="0.50" fill="#14223a"/>
<circle cx="309.94" cy="181.47" r="0.50" fill="#14223a"/>
<circle cx="310.09" cy="189.14" r="0.50" fill="#14223a"/>
<circle cx="309.53" cy="188.20" r="0.50" fill="#14223a"/>
<circle cx="309.94" cy="172.06" r="0.50" fill="#14223a"/>
<circle cx="311.16" cy="200.89" r="0.50" fill="#14223a"/>
<circle cx="311.07" cy="191.16" r="0.50" fill="#14223a"/>
<circle cx="309.37" cy="192.04" r="0.50" fill="#14223a"/>
<circle cx="310.77" cy="198.06" r="0.50" fill="#14223a"/>
<circle cx="309.23" cy="182.48" r="0.50" fill="#14223a"/>
<circle cx="309.64" cy="191.35" r="0.50" fill="#14223a"/>
<circle cx="309.80" cy="189.28" r="0.50" fill="#14223a"/>
<circle cx="308.81" cy="193.74" r="0.50" fill="#14223a"/>
<circle cx="309.45" cy="199.64" r="0.50" fill="#14223a"/>
<circle cx="308.71" cy="187.09" r="0.50" fill="#14223a"/>
<circle cx="309.51" cy="169.37" r="0.50" fill="#14223a"/>
<circle cx="309.85" cy="164.87" r="0.50" fill="#14223a"/>
<circle cx="310.37" cy="178.82" r="0.50" fill="#14223a"/>
<circle cx="309.87" cy="171.46" r="0.50" fill="#14223a"/>
<circle cx="309.45" cy="176.74" r="0.50" fill="#14223a"/>
<circle cx="310.88" cy="192.53" r="0.50" fill="#14223a"/>
<circle cx="308.80" cy="188.44" r="0.50" fill="#14223a"/>
<circle cx="308.79" cy="186.92" r="0.50" fill="#14223a"/>
<circle cx="309.44" cy="166.15" r="0.50" fill="#14223a"/>
<circle cx="311.51" cy="199.67" r="0.50" fill="#14223a"/>
<circle cx="308.32" cy="200.38" r="0.50" fill="#14223a"/>
<circle cx="309.20" cy="201.59" r="0.50" fill="#14223a"/>
<circle cx="309.53" cy="197.59" r="0.50" fill="#14223a"/>
<circle cx="310.72" cy="200.84" r="0.50" fill="#14223a"/>
<circle cx="309.43" cy="182.30" r="0.50" fill="#14223a"/>
<path d="M326.30,165.60 L325.30,168.00 L324.90,180.00 L324.80,195.00 L324.90,210.00 L325.40,222.00 L326.40,227.50 L327.40,227.50 L328.40,222.00 L328.90,210.00 L329.00,195.00 L328.90,180.00 L328.50,168.00 L327.50,165.60 Z" fill="#1f7068" stroke="#222" stroke-width="0.35"/>
<circle cx="327.61" cy="210.21" r="0.50" fill="#0c2420"/>
<circle cx="325.72" cy="189.54" r="0.50" fill="#0c2420"/>
<circle cx="326.79" cy="209.59" r="0.50" fill="#0c2420"/>
<circle cx="325.60" cy="212.55" r="0.50" fill="#0c2420"/>
<circle cx="327.38" cy="180.28" r="0.50" fill="#0c2420"/>
<circle cx="327.69" cy="193.45" r="0.50" fill="#0c2420"/>
<circle cx="325.44" cy="186.26" r="0.50" fill="#0c2420"/>
<circle cx="325.56" cy="190.32" r="0.50" fill="#0c2420"/>
<circle cx="325.48" cy="200.81" r="0.50" fill="#0c2420"/>
<circle cx="325.37" cy="205.78" r="0.50" fill="#0c2420"/>
<circle cx="327.17" cy="175.05" r="0.50" fill="#0c2420"/>
<circle cx="327.62" cy="166.32" r="0.50" fill="#0c2420"/>
<circle cx="326.63" cy="179.22" r="0.50" fill="#0c2420"/>
<circle cx="327.80" cy="213.95" r="0.50" fill="#0c2420"/>
<circle cx="325.80" cy="198.73" r="0.50" fill="#0c2420"/>
<circle cx="328.29" cy="172.57" r="0.50" fill="#0c2420"/>
<circle cx="325.54" cy="177.93" r="0.50" fill="#0c2420"/>
<circle cx="328.02" cy="194.40" r="0.50" fill="#0c2420"/>
<circle cx="327.79" cy="203.69" r="0.50" fill="#0c2420"/>
<circle cx="327.18" cy="219.56" r="0.50" fill="#0c2420"/>
<circle cx="328.04" cy="193.18" r="0.50" fill="#0c2420"/>
<circle cx="325.90" cy="202.39" r="0.50" fill="#0c2420"/>
<circle cx="327.68" cy="198.98" r="0.50" fill="#0c2420"/>
<circle cx="326.86" cy="170.38" r="0.50" fill="#0c2420"/>
<circle cx="327.57" cy="170.03" r="0.50" fill="#0c2420"/>
<circle cx="327.26" cy="191.77" r="0.50" fill="#0c2420"/>
<circle cx="328.55" cy="178.86" r="0.50" fill="#0c2420"/>
<circle cx="325.49" cy="186.35" r="0.50" fill="#0c2420"/>
<circle cx="328.34" cy="179.09" r="0.50" fill="#0c2420"/>
<circle cx="328.53" cy="210.56" r="0.50" fill="#0c2420"/>
<circle cx="327.02" cy="203.49" r="0.50" fill="#0c2420"/>
<circle cx="328.27" cy="191.52" r="0.50" fill="#0c2420"/>
<circle cx="327.40" cy="224.38" r="0.50" fill="#0c2420"/>
<circle cx="327.93" cy="222.57" r="0.50" fill="#0c2420"/>
<circle cx="327.62" cy="177.03" r="0.50" fill="#0c2420"/>
<circle cx="327.37" cy="183.82" r="0.50" fill="#0c2420"/>
<circle cx="326.29" cy="168.11" r="0.50" fill="#0c2420"/>
<circle cx="327.72" cy="192.37" r="0.50" fill="#0c2420"/>
<circle cx="325.60" cy="211.83" r="0.50" fill="#0c2420"/>
<circle cx="325.46" cy="184.13" r="0.50" fill="#0c2420"/>
<circle cx="327.53" cy="175.08" r="0.50" fill="#0c2420"/>
<circle cx="325.98" cy="219.83" r="0.50" fill="#0c2420"/>
<circle cx="326.99" cy="184.91" r="0.50" fill="#0c2420"/>
<circle cx="328.10" cy="199.15" r="0.50" fill="#0c2420"/>
<circle cx="328.22" cy="183.25" r="0.50" fill="#0c2420"/>
<circle cx="326.13" cy="215.56" r="0.50" fill="#0c2420"/>
<circle cx="325.79" cy="215.53" r="0.50" fill="#0c2420"/>
<circle cx="325.76" cy="198.46" r="0.50" fill="#0c2420"/>
<circle cx="327.65" cy="168.71" r="0.50" fill="#0c2420"/>
<circle cx="327.87" cy="194.43" r="0.50" fill="#0c2420"/>
<circle cx="326.51" cy="226.21" r="0.50" fill="#0c2420"/>
<circle cx="326.64" cy="166.42" r="0.50" fill="#0c2420"/>
<circle cx="325.78" cy="168.77" r="0.50" fill="#0c2420"/>
<circle cx="327.93" cy="184.89" r="0.50" fill="#0c2420"/>
<circle cx="325.35" cy="191.49" r="0.50" fill="#0c2420"/>
<circle cx="327.50" cy="192.19" r="0.50" fill="#0c2420"/>
<circle cx="327.78" cy="180.91" r="0.50" fill="#0c2420"/>
<circle cx="327.92" cy="214.47" r="0.50" fill="#0c2420"/>
<circle cx="325.77" cy="199.76" r="0.50" fill="#0c2420"/>
<circle cx="328.36" cy="194.54" r="0.50" fill="#0c2420"/>
<circle cx="326.65" cy="215.99" r="0.50" fill="#0c2420"/>
<circle cx="325.82" cy="197.69" r="0.50" fill="#0c2420"/>
<circle cx="326.40" cy="199.46" r="0.50" fill="#0c2420"/>
<circle cx="326.74" cy="193.76" r="0.50" fill="#0c2420"/>
<circle cx="326.60" cy="224.98" r="0.50" fill="#0c2420"/>
<circle cx="328.09" cy="197.91" r="0.50" fill="#0c2420"/>
<circle cx="327.15" cy="203.51" r="0.50" fill="#0c2420"/>
<circle cx="326.15" cy="199.63" r="0.50" fill="#0c2420"/>
<circle cx="325.55" cy="209.51" r="0.50" fill="#0c2420"/>
<circle cx="326.95" cy="206.99" r="0.50" fill="#0c2420"/>
<circle cx="328.33" cy="205.44" r="0.50" fill="#0c2420"/>
<circle cx="327.96" cy="176.81" r="0.50" fill="#0c2420"/>
<circle cx="328.43" cy="185.17" r="0.50" fill="#0c2420"/>
<circle cx="326.69" cy="224.02" r="0.50" fill="#0c2420"/>
<circle cx="326.05" cy="183.05" r="0.50" fill="#0c2420"/>
<circle cx="326.57" cy="226.27" r="0.50" fill="#0c2420"/>
<circle cx="326.99" cy="177.98" r="0.50" fill="#0c2420"/>
<circle cx="327.33" cy="211.59" r="0.50" fill="#0c2420"/>
<circle cx="326.26" cy="216.22" r="0.50" fill="#0c2420"/>
<circle cx="326.53" cy="225.10" r="0.50" fill="#0c2420"/>
<circle cx="327.06" cy="195.49" r="0.50" fill="#0c2420"/>
<circle cx="328.16" cy="168.52" r="0.50" fill="#0c2420"/>
<circle cx="325.68" cy="207.36" r="0.50" fill="#0c2420"/>
<circle cx="326.00" cy="168.98" r="0.50" fill="#0c2420"/>
<circle cx="328.12" cy="177.34" r="0.50" fill="#0c2420"/>
<circle cx="325.56" cy="198.70" r="0.50" fill="#0c2420"/>
<circle cx="325.69" cy="182.98" r="0.50" fill="#0c2420"/>
<circle cx="328.16" cy="173.46" r="0.50" fill="#0c2420"/>
<circle cx="328.15" cy="170.36" r="0.50" fill="#0c2420"/>
<circle cx="328.43" cy="180.82" r="0.50" fill="#0c2420"/>
<circle cx="326.27" cy="195.63" r="0.50" fill="#0c2420"/>
<circle cx="327.39" cy="166.92" r="0.50" fill="#0c2420"/>
<circle cx="326.79" cy="214.00" r="0.50" fill="#0c2420"/>
<circle cx="327.02" cy="198.91" r="0.50" fill="#0c2420"/>
<circle cx="327.17" cy="217.16" r="0.50" fill="#0c2420"/>
<circle cx="326.23" cy="217.60" r="0.50" fill="#0c2420"/>
<circle cx="328.48" cy="178.13" r="0.50" fill="#0c2420"/>
<circle cx="325.59" cy="190.94" r="0.50" fill="#0c2420"/>
<circle cx="327.80" cy="208.03" r="0.50" fill="#0c2420"/>
<circle cx="326.73" cy="171.33" r="0.50" fill="#0c2420"/>
<circle cx="326.35" cy="174.66" r="0.50" fill="#0c2420"/>
<circle cx="326.28" cy="196.95" r="0.50" fill="#0c2420"/>
<circle cx="328.53" cy="187.79" r="0.50" fill="#0c2420"/>
<circle cx="328.27" cy="217.30" r="0.50" fill="#0c2420"/>
<circle cx="326.90" cy="182.30" r="0.50" fill="#0c2420"/>
<circle cx="327.38" cy="210.92" r="0.50" fill="#0c2420"/>
<circle cx="327.01" cy="193.63" r="0.50" fill="#0c2420"/>
<circle cx="327.30" cy="198.31" r="0.50" fill="#0c2420"/>
<circle cx="327.88" cy="169.89" r="0.50" fill="#0c2420"/>
<circle cx="328.01" cy="213.72" r="0.50" fill="#0c2420"/>
<circle cx="326.45" cy="189.37" r="0.50" fill="#0c2420"/>
<circle cx="328.18" cy="178.89" r="0.50" fill="#0c2420"/>
<circle cx="327.62" cy="192.28" r="0.50" fill="#0c2420"/>
<circle cx="326.92" cy="187.98" r="0.50" fill="#0c2420"/>
<circle cx="327.42" cy="190.30" r="0.50" fill="#0c2420"/>
<circle cx="325.94" cy="219.77" r="0.50" fill="#0c2420"/>
<circle cx="327.28" cy="179.21" r="0.50" fill="#0c2420"/>
<circle cx="326.35" cy="174.24" r="0.50" fill="#0c2420"/>
<circle cx="327.03" cy="183.12" r="0.50" fill="#0c2420"/>
<circle cx="327.46" cy="222.63" r="0.50" fill="#0c2420"/>
<circle cx="327.36" cy="222.12" r="0.50" fill="#0c2420"/>
<circle cx="328.23" cy="189.01" r="0.50" fill="#0c2420"/>
<circle cx="328.00" cy="183.35" r="0.50" fill="#0c2420"/>
<circle cx="325.30" cy="202.67" r="0.50" fill="#0c2420"/>
<circle cx="328.03" cy="187.34" r="0.50" fill="#0c2420"/>
<circle cx="326.54" cy="176.97" r="0.50" fill="#0c2420"/>
<circle cx="327.34" cy="197.28" r="0.50" fill="#0c2420"/>
<circle cx="325.53" cy="206.44" r="0.50" fill="#0c2420"/>
<circle cx="327.63" cy="170.77" r="0.50" fill="#0c2420"/>
<circle cx="326.41" cy="226.99" r="0.50" fill="#0c2420"/>
<circle cx="328.24" cy="195.31" r="0.50" fill="#0c2420"/>
<circle cx="326.66" cy="216.76" r="0.50" fill="#0c2420"/>
<circle cx="325.89" cy="201.68" r="0.50" fill="#0c2420"/>
<circle cx="327.38" cy="189.86" r="0.50" fill="#0c2420"/>
<circle cx="325.49" cy="198.02" r="0.50" fill="#0c2420"/>
<circle cx="328.11" cy="179.98" r="0.50" fill="#0c2420"/>
<circle cx="328.54" cy="198.97" r="0.50" fill="#0c2420"/>
<circle cx="325.89" cy="206.54" r="0.50" fill="#0c2420"/>
<circle cx="325.65" cy="184.08" r="0.50" fill="#0c2420"/>
<circle cx="326.41" cy="198.50" r="0.50" fill="#0c2420"/>
<circle cx="326.07" cy="218.68" r="0.50" fill="#0c2420"/>
<circle cx="326.37" cy="169.31" r="0.50" fill="#0c2420"/>
<circle cx="325.97" cy="177.60" r="0.50" fill="#0c2420"/>
<circle cx="325.83" cy="190.18" r="0.50" fill="#0c2420"/>
<circle cx="326.59" cy="167.93" r="0.50" fill="#0c2420"/>
<circle cx="326.59" cy="169.13" r="0.50" fill="#0c2420"/>
<circle cx="326.14" cy="176.60" r="0.50" fill="#0c2420"/>
<circle cx="325.58" cy="208.57" r="0.50" fill="#0c2420"/>
<circle cx="327.12" cy="179.24" r="0.50" fill="#0c2420"/>
<circle cx="325.93" cy="180.80" r="0.50" fill="#0c2420"/>
<circle cx="325.80" cy="207.12" r="0.50" fill="#0c2420"/>
<circle cx="327.03" cy="212.09" r="0.50" fill="#0c2420"/>
<circle cx="326.70" cy="202.60" r="0.50" fill="#0c2420"/>
<circle cx="327.90" cy="169.07" r="0.50" fill="#0c2420"/>
<circle cx="326.11" cy="195.94" r="0.50" fill="#0c2420"/>
<circle cx="326.18" cy="221.23" r="0.50" fill="#0c2420"/>
<circle cx="327.64" cy="195.51" r="0.50" fill="#0c2420"/>
<circle cx="327.18" cy="186.58" r="0.50" fill="#0c2420"/>
<circle cx="327.94" cy="172.26" r="0.50" fill="#0c2420"/>
<circle cx="328.13" cy="195.18" r="0.50" fill="#0c2420"/>
<circle cx="327.18" cy="193.25" r="0.50" fill="#0c2420"/>
<circle cx="325.71" cy="216.60" r="0.50" fill="#0c2420"/>
<circle cx="326.27" cy="212.72" r="0.50" fill="#0c2420"/>
<circle cx="326.30" cy="217.35" r="0.50" fill="#0c2420"/>
<circle cx="326.83" cy="211.10" r="0.50" fill="#0c2420"/>
<circle cx="327.57" cy="200.71" r="0.50" fill="#0c2420"/>
<circle cx="325.57" cy="200.42" r="0.50" fill="#0c2420"/>
<circle cx="327.66" cy="199.89" r="0.50" fill="#0c2420"/>
<circle cx="325.93" cy="176.28" r="0.50" fill="#0c2420"/>
<circle cx="325.56" cy="190.87" r="0.50" fill="#0c2420"/>
<circle cx="326.07" cy="168.99" r="0.50" fill="#0c2420"/>
<circle cx="325.54" cy="196.87" r="0.50" fill="#0c2420"/>
<circle cx="328.15" cy="198.87" r="0.50" fill="#0c2420"/>
<circle cx="325.42" cy="197.51" r="0.50" fill="#0c2420"/>
<circle cx="328.40" cy="182.71" r="0.50" fill="#0c2420"/>
<circle cx="326.09" cy="195.11" r="0.50" fill="#0c2420"/>
<circle cx="327.01" cy="225.18" r="0.50" fill="#0c2420"/>
<circle cx="325.96" cy="197.22" r="0.50" fill="#0c2420"/>
<circle cx="325.56" cy="211.00" r="0.50" fill="#0c2420"/>
<circle cx="325.97" cy="209.15" r="0.50" fill="#0c2420"/>
<circle cx="326.31" cy="193.89" r="0.50" fill="#0c2420"/>
<circle cx="327.44" cy="212.79" r="0.50" fill="#0c2420"/>
<circle cx="326.47" cy="182.28" r="0.50" fill="#0c2420"/>
<circle cx="326.91" cy="219.47" r="0.50" fill="#0c2420"/>
<circle cx="327.93" cy="208.14" r="0.50" fill="#0c2420"/>
<circle cx="327.19" cy="181.54" r="0.50" fill="#0c2420"/>
<circle cx="325.78" cy="189.62" r="0.50" fill="#0c2420"/>
<circle cx="327.78" cy="205.25" r="0.50" fill="#0c2420"/>
<circle cx="328.08" cy="196.85" r="0.50" fill="#0c2420"/>
<circle cx="325.37" cy="210.62" r="0.50" fill="#0c2420"/>
<circle cx="328.33" cy="200.06" r="0.50" fill="#0c2420"/>
<circle cx="328.48" cy="178.15" r="0.50" fill="#0c2420"/>
<circle cx="327.69" cy="211.37" r="0.50" fill="#0c2420"/>
<circle cx="327.42" cy="174.85" r="0.50" fill="#0c2420"/>
<circle cx="325.67" cy="202.97" r="0.50" fill="#0c2420"/>
<circle cx="325.67" cy="204.28" r="0.50" fill="#0c2420"/>
<circle cx="327.28" cy="166.04" r="0.50" fill="#0c2420"/>
<circle cx="328.58" cy="189.79" r="0.50" fill="#0c2420"/>
<circle cx="327.58" cy="203.43" r="0.50" fill="#0c2420"/>
<circle cx="327.12" cy="165.72" r="0.50" fill="#0c2420"/>
<circle cx="326.96" cy="176.17" r="0.50" fill="#0c2420"/>
<circle cx="325.55" cy="185.89" r="0.50" fill="#0c2420"/>
<circle cx="327.82" cy="215.25" r="0.50" fill="#0c2420"/>
<circle cx="326.31" cy="193.15" r="0.50" fill="#0c2420"/>
<circle cx="327.91" cy="179.50" r="0.50" fill="#0c2420"/>
<circle cx="326.61" cy="186.97" r="0.50" fill="#0c2420"/>
<circle cx="327.11" cy="171.54" r="0.50" fill="#0c2420"/>
<circle cx="326.19" cy="199.37" r="0.50" fill="#0c2420"/>
<circle cx="326.56" cy="167.13" r="0.50" fill="#0c2420"/>
<circle cx="326.13" cy="177.76" r="0.50" fill="#0c2420"/>
<circle cx="327.42" cy="212.76" r="0.50" fill="#0c2420"/>
<circle cx="326.66" cy="211.13" r="0.50" fill="#0c2420"/>
<circle cx="327.90" cy="184.69" r="0.50" fill="#0c2420"/>
<circle cx="328.35" cy="196.56" r="0.50" fill="#0c2420"/>
<circle cx="326.69" cy="201.63" r="0.50" fill="#0c2420"/>
<circle cx="328.48" cy="176.01" r="0.50" fill="#0c2420"/>
<circle cx="326.84" cy="173.16" r="0.50" fill="#0c2420"/>
<circle cx="326.61" cy="180.93" r="0.50" fill="#0c2420"/>
<circle cx="326.36" cy="168.57" r="0.50" fill="#0c2420"/>
<circle cx="326.24" cy="194.86" r="0.50" fill="#0c2420"/>
<circle cx="325.65" cy="173.82" r="0.50" fill="#0c2420"/>
<circle cx="327.61" cy="225.28" r="0.50" fill="#0c2420"/>
<circle cx="327.70" cy="177.46" r="0.50" fill="#0c2420"/>
<circle cx="326.93" cy="198.46" r="0.50" fill="#0c2420"/>
<circle cx="327.49" cy="204.63" r="0.50" fill="#0c2420"/>
<circle cx="325.22" cy="197.32" r="0.50" fill="#0c2420"/>
<circle cx="328.10" cy="169.83" r="0.50" fill="#0c2420"/>
<circle cx="327.11" cy="191.70" r="0.50" fill="#0c2420"/>
<circle cx="327.25" cy="189.80" r="0.50" fill="#0c2420"/>
<circle cx="327.44" cy="167.39" r="0.50" fill="#0c2420"/>
<circle cx="326.07" cy="181.58" r="0.50" fill="#0c2420"/>
<circle cx="327.73" cy="187.74" r="0.50" fill="#0c2420"/>
<circle cx="326.40" cy="224.83" r="0.50" fill="#0c2420"/>
<circle cx="326.01" cy="186.46" r="0.50" fill="#0c2420"/>
<circle cx="326.02" cy="201.78" r="0.50" fill="#0c2420"/>
<circle cx="325.86" cy="176.84" r="0.50" fill="#0c2420"/>
<circle cx="328.20" cy="196.64" r="0.50" fill="#0c2420"/>
<circle cx="326.67" cy="200.56" r="0.50" fill="#0c2420"/>
<circle cx="327.58" cy="168.08" r="0.50" fill="#0c2420"/>
<circle cx="326.13" cy="188.11" r="0.50" fill="#0c2420"/>
<circle cx="325.88" cy="179.19" r="0.50" fill="#0c2420"/>
<circle cx="327.67" cy="203.10" r="0.50" fill="#0c2420"/>
<circle cx="326.84" cy="172.02" r="0.50" fill="#0c2420"/>
<circle cx="326.67" cy="189.03" r="0.50" fill="#0c2420"/>
<circle cx="327.38" cy="177.99" r="0.50" fill="#0c2420"/>
<circle cx="325.86" cy="209.87" r="0.50" fill="#0c2420"/>
<circle cx="328.13" cy="174.13" r="0.50" fill="#0c2420"/>
<circle cx="328.25" cy="173.15" r="0.50" fill="#0c2420"/>
<circle cx="328.28" cy="183.74" r="0.50" fill="#0c2420"/>
<circle cx="325.93" cy="192.53" r="0.50" fill="#0c2420"/>
<circle cx="326.36" cy="216.97" r="0.50" fill="#0c2420"/>
<circle cx="326.06" cy="193.02" r="0.50" fill="#0c2420"/>
<circle cx="328.52" cy="185.22" r="0.50" fill="#0c2420"/>
<circle cx="328.22" cy="183.05" r="0.50" fill="#0c2420"/>
<circle cx="328.39" cy="180.70" r="0.50" fill="#0c2420"/>
<circle cx="326.33" cy="179.80" r="0.50" fill="#0c2420"/>
<circle cx="327.04" cy="184.37" r="0.50" fill="#0c2420"/>
<circle cx="326.93" cy="200.27" r="0.50" fill="#0c2420"/>
<circle cx="328.38" cy="184.05" r="0.50" fill="#0c2420"/>
<circle cx="325.51" cy="212.22" r="0.50" fill="#0c2420"/>
<path d="M343.60,152.60 L343.55,184.00 L342.70,187.00 L341.90,192.00 L341.60,199.00 L342.20,202.00 L343.40,203.60 L344.40,203.60 L345.60,202.00 L346.20,199.00 L345.90,192.00 L345.10,187.00 L344.25,184.00 L344.20,152.60 Z" fill="#e8c23a" stroke="#222" stroke-width="0.35"/>
<circle cx="344.10" cy="198.77" r="0.50" fill="#2e2608"/>
<circle cx="345.29" cy="200.83" r="0.50" fill="#2e2608"/>
<circle cx="343.98" cy="165.40" r="0.50" fill="#2e2608"/>
<circle cx="343.73" cy="170.13" r="0.50" fill="#2e2608"/>
<circle cx="343.57" cy="177.22" r="0.50" fill="#2e2608"/>
<circle cx="343.50" cy="195.83" r="0.50" fill="#2e2608"/>
<circle cx="343.94" cy="171.26" r="0.50" fill="#2e2608"/>
<circle cx="345.16" cy="189.09" r="0.50" fill="#2e2608"/>
<circle cx="343.94" cy="165.89" r="0.50" fill="#2e2608"/>
<circle cx="345.18" cy="195.39" r="0.50" fill="#2e2608"/>
<circle cx="343.64" cy="202.57" r="0.50" fill="#2e2608"/>
<circle cx="344.29" cy="180.57" r="0.50" fill="#2e2608"/>
<circle cx="344.23" cy="157.24" r="0.50" fill="#2e2608"/>
<circle cx="343.93" cy="189.10" r="0.50" fill="#2e2608"/>
<circle cx="344.60" cy="200.41" r="0.50" fill="#2e2608"/>
<circle cx="344.70" cy="190.54" r="0.50" fill="#2e2608"/>
<circle cx="343.17" cy="188.21" r="0.50" fill="#2e2608"/>
<circle cx="344.34" cy="186.74" r="0.50" fill="#2e2608"/>
<circle cx="343.16" cy="193.39" r="0.50" fill="#2e2608"/>
<circle cx="344.30" cy="164.55" r="0.50" fill="#2e2608"/>
<circle cx="343.22" cy="191.68" r="0.50" fill="#2e2608"/>
<circle cx="343.63" cy="189.81" r="0.50" fill="#2e2608"/>
<circle cx="343.03" cy="201.50" r="0.50" fill="#2e2608"/>
<circle cx="343.76" cy="200.90" r="0.50" fill="#2e2608"/>
<circle cx="344.87" cy="195.00" r="0.50" fill="#2e2608"/>
<circle cx="343.58" cy="182.00" r="0.50" fill="#2e2608"/>
<circle cx="342.20" cy="194.06" r="0.50" fill="#2e2608"/>
<circle cx="343.44" cy="170.32" r="0.50" fill="#2e2608"/>
<circle cx="344.25" cy="160.65" r="0.50" fill="#2e2608"/>
<circle cx="342.79" cy="188.84" r="0.50" fill="#2e2608"/>
<circle cx="345.44" cy="190.91" r="0.50" fill="#2e2608"/>
<circle cx="342.71" cy="194.35" r="0.50" fill="#2e2608"/>
<circle cx="344.58" cy="195.51" r="0.50" fill="#2e2608"/>
<circle cx="344.20" cy="158.88" r="0.50" fill="#2e2608"/>
<circle cx="345.01" cy="191.34" r="0.50" fill="#2e2608"/>
<circle cx="343.92" cy="188.09" r="0.50" fill="#2e2608"/>
<circle cx="344.41" cy="197.63" r="0.50" fill="#2e2608"/>
<circle cx="343.97" cy="177.37" r="0.50" fill="#2e2608"/>
<circle cx="345.16" cy="197.72" r="0.50" fill="#2e2608"/>
<circle cx="345.01" cy="197.67" r="0.50" fill="#2e2608"/>
<circle cx="342.95" cy="191.34" r="0.50" fill="#2e2608"/>
<circle cx="344.29" cy="185.90" r="0.50" fill="#2e2608"/>
<circle cx="343.49" cy="198.73" r="0.50" fill="#2e2608"/>
<circle cx="343.15" cy="197.75" r="0.50" fill="#2e2608"/>
<circle cx="342.93" cy="194.54" r="0.50" fill="#2e2608"/>
<circle cx="343.56" cy="189.34" r="0.50" fill="#2e2608"/>
<circle cx="344.04" cy="202.72" r="0.50" fill="#2e2608"/>
<circle cx="344.16" cy="200.82" r="0.50" fill="#2e2608"/>
<circle cx="344.90" cy="196.10" r="0.50" fill="#2e2608"/>
<circle cx="344.77" cy="193.64" r="0.50" fill="#2e2608"/>
<circle cx="342.53" cy="191.57" r="0.50" fill="#2e2608"/>
<circle cx="344.12" cy="194.39" r="0.50" fill="#2e2608"/>
<circle cx="343.82" cy="177.48" r="0.50" fill="#2e2608"/>
<circle cx="343.27" cy="197.84" r="0.50" fill="#2e2608"/>
<circle cx="345.25" cy="194.13" r="0.50" fill="#2e2608"/>
<circle cx="344.37" cy="173.04" r="0.50" fill="#2e2608"/>
<circle cx="344.05" cy="191.92" r="0.50" fill="#2e2608"/>
<circle cx="343.38" cy="196.41" r="0.50" fill="#2e2608"/>
<circle cx="344.15" cy="191.26" r="0.50" fill="#2e2608"/>
<circle cx="343.09" cy="202.16" r="0.50" fill="#2e2608"/>
<circle cx="344.17" cy="162.83" r="0.50" fill="#2e2608"/>
<circle cx="344.87" cy="194.41" r="0.50" fill="#2e2608"/>
<circle cx="343.71" cy="195.07" r="0.50" fill="#2e2608"/>
<circle cx="342.72" cy="197.72" r="0.50" fill="#2e2608"/>
<circle cx="343.57" cy="170.67" r="0.50" fill="#2e2608"/>
<circle cx="343.51" cy="184.57" r="0.50" fill="#2e2608"/>
<circle cx="345.11" cy="192.50" r="0.50" fill="#2e2608"/>
<circle cx="345.18" cy="195.31" r="0.50" fill="#2e2608"/>
<circle cx="343.72" cy="188.18" r="0.50" fill="#2e2608"/>
<circle cx="343.65" cy="153.84" r="0.50" fill="#2e2608"/>
<circle cx="344.37" cy="176.11" r="0.50" fill="#2e2608"/>
<circle cx="345.21" cy="198.13" r="0.50" fill="#2e2608"/>
<circle cx="342.75" cy="201.46" r="0.50" fill="#2e2608"/>
<circle cx="344.91" cy="193.40" r="0.50" fill="#2e2608"/>
<circle cx="344.34" cy="182.81" r="0.50" fill="#2e2608"/>
<circle cx="343.66" cy="168.72" r="0.50" fill="#2e2608"/>
<circle cx="343.51" cy="194.54" r="0.50" fill="#2e2608"/>
<circle cx="343.95" cy="165.44" r="0.50" fill="#2e2608"/>
<circle cx="344.28" cy="187.72" r="0.50" fill="#2e2608"/>
<circle cx="345.26" cy="201.82" r="0.50" fill="#2e2608"/>
<circle cx="343.94" cy="187.41" r="0.50" fill="#2e2608"/>
<circle cx="342.69" cy="193.14" r="0.50" fill="#2e2608"/>
<circle cx="344.97" cy="188.46" r="0.50" fill="#2e2608"/>
<circle cx="344.38" cy="152.73" r="0.50" fill="#2e2608"/>
<circle cx="344.62" cy="192.90" r="0.50" fill="#2e2608"/>
<circle cx="345.49" cy="197.46" r="0.50" fill="#2e2608"/>
<circle cx="343.63" cy="176.28" r="0.50" fill="#2e2608"/>
<circle cx="345.15" cy="195.33" r="0.50" fill="#2e2608"/>
<circle cx="343.78" cy="160.88" r="0.50" fill="#2e2608"/>
<circle cx="344.21" cy="192.78" r="0.50" fill="#2e2608"/>
<circle cx="343.53" cy="153.20" r="0.55" fill="#2e2608"/>
<circle cx="343.35" cy="154.50" r="0.55" fill="#2e2608"/>
<circle cx="343.87" cy="156.00" r="0.55" fill="#2e2608"/>
<circle cx="343.92" cy="157.20" r="0.55" fill="#2e2608"/>
<circle cx="344.04" cy="159.00" r="0.55" fill="#2e2608"/>
<circle cx="343.75" cy="161.50" r="0.55" fill="#2e2608"/>
<circle cx="344.42" cy="164.00" r="0.55" fill="#2e2608"/>
<circle cx="344.24" cy="167.00" r="0.55" fill="#2e2608"/>
<circle cx="343.48" cy="170.50" r="0.55" fill="#2e2608"/>
<circle cx="343.31" cy="174.00" r="0.55" fill="#2e2608"/>
<circle cx="344.45" cy="178.00" r="0.55" fill="#2e2608"/>
<path d="M360.50,188.20 L358.90,189.30 L355.90,190.00 L353.60,190.80 L353.10,192.30 L354.90,193.50 L356.90,195.00 L358.50,196.50 L359.80,198.00 L360.30,199.00 L360.50,202.00 L361.30,202.00 L361.50,199.00 L362.00,198.00 L363.30,196.50 L364.90,195.00 L366.90,193.50 L368.70,192.30 L368.20,190.80 L365.90,190.00 L362.90,189.30 L361.30,188.20 Z" fill="#ee5c3e" stroke="#222" stroke-width="0.35"/>
<circle cx="360.43" cy="193.26" r="0.50" fill="#30100a"/>
<circle cx="361.14" cy="189.99" r="0.50" fill="#30100a"/>
<circle cx="360.75" cy="189.97" r="0.50" fill="#30100a"/>
<circle cx="360.72" cy="196.98" r="0.50" fill="#30100a"/>
<circle cx="361.44" cy="196.65" r="0.50" fill="#30100a"/>
<circle cx="361.05" cy="198.60" r="0.50" fill="#30100a"/>
<circle cx="360.67" cy="196.26" r="0.50" fill="#30100a"/>
<circle cx="361.08" cy="196.47" r="0.50" fill="#30100a"/>
<circle cx="360.89" cy="195.72" r="0.50" fill="#30100a"/>
<circle cx="360.55" cy="198.02" r="0.50" fill="#30100a"/>
<circle cx="361.47" cy="197.49" r="0.50" fill="#30100a"/>
<circle cx="360.60" cy="188.00" r="0.50" fill="#30100a"/>
<circle cx="360.40" cy="201.30" r="0.50" fill="#30100a"/>
<circle cx="361.00" cy="198.95" r="0.50" fill="#30100a"/>
<circle cx="361.06" cy="188.47" r="0.50" fill="#30100a"/>
<circle cx="361.32" cy="187.61" r="0.50" fill="#30100a"/>
<circle cx="361.41" cy="191.73" r="0.50" fill="#30100a"/>
<circle cx="360.46" cy="200.07" r="0.50" fill="#30100a"/>
<circle cx="360.48" cy="193.14" r="0.50" fill="#30100a"/>
<circle cx="360.41" cy="198.11" r="0.50" fill="#30100a"/>
<circle cx="360.44" cy="188.53" r="0.50" fill="#30100a"/>
<circle cx="360.60" cy="199.52" r="0.50" fill="#30100a"/>
<circle cx="360.84" cy="192.02" r="0.50" fill="#30100a"/>
<circle cx="360.80" cy="195.23" r="0.50" fill="#30100a"/>
<circle cx="360.71" cy="200.76" r="0.50" fill="#30100a"/>
<circle cx="361.33" cy="194.16" r="0.50" fill="#30100a"/>
<circle cx="360.51" cy="190.91" r="0.50" fill="#30100a"/>
<circle cx="360.68" cy="199.21" r="0.50" fill="#30100a"/>
<circle cx="361.29" cy="199.99" r="0.50" fill="#30100a"/>
<circle cx="360.70" cy="192.72" r="0.50" fill="#30100a"/>
<path d="M383.80,195.20 L383.40,198.00 L382.70,200.00 L381.20,201.50 L379.70,203.00 L378.90,204.80 L379.60,206.30 L381.20,207.30 L383.20,207.80 L385.20,207.80 L387.20,207.30 L388.80,206.30 L389.50,204.80 L388.70,203.00 L387.20,201.50 L385.70,200.00 L385.00,198.00 L384.60,195.20 Z" fill="#3a68a8" stroke="#222" stroke-width="0.35"/>
<circle cx="383.10" cy="200.78" r="0.50" fill="#14223a"/>
<circle cx="384.21" cy="203.07" r="0.50" fill="#14223a"/>
<circle cx="385.13" cy="200.21" r="0.50" fill="#14223a"/>
<circle cx="383.36" cy="206.50" r="0.50" fill="#14223a"/>
<circle cx="383.08" cy="206.69" r="0.50" fill="#14223a"/>
<circle cx="384.45" cy="203.09" r="0.50" fill="#14223a"/>
<circle cx="385.40" cy="204.72" r="0.50" fill="#14223a"/>
<circle cx="385.06" cy="200.24" r="0.50" fill="#14223a"/>
<circle cx="384.04" cy="206.92" r="0.50" fill="#14223a"/>
<circle cx="383.53" cy="206.56" r="0.50" fill="#14223a"/>
<circle cx="385.89" cy="205.01" r="0.50" fill="#14223a"/>
<circle cx="384.90" cy="205.99" r="0.50" fill="#14223a"/>
<circle cx="384.43" cy="202.49" r="0.50" fill="#14223a"/>
<circle cx="385.02" cy="199.05" r="0.50" fill="#14223a"/>
<circle cx="385.36" cy="199.82" r="0.50" fill="#14223a"/>
<circle cx="383.83" cy="199.47" r="0.50" fill="#14223a"/>
<circle cx="385.60" cy="205.70" r="0.50" fill="#14223a"/>
<circle cx="384.22" cy="196.82" r="0.50" fill="#14223a"/>
<circle cx="383.37" cy="205.97" r="0.50" fill="#14223a"/>
<circle cx="383.50" cy="207.77" r="0.50" fill="#14223a"/>
<circle cx="383.47" cy="206.02" r="0.50" fill="#14223a"/>
<circle cx="382.56" cy="205.26" r="0.50" fill="#14223a"/>
<circle cx="384.29" cy="203.56" r="0.50" fill="#14223a"/>
<circle cx="383.43" cy="205.93" r="0.50" fill="#14223a"/>
<circle cx="382.69" cy="203.05" r="0.50" fill="#14223a"/>
<circle cx="384.74" cy="201.57" r="0.50" fill="#14223a"/>
<circle cx="383.22" cy="199.63" r="0.50" fill="#14223a"/>
<circle cx="384.01" cy="206.32" r="0.50" fill="#14223a"/>
<circle cx="383.61" cy="204.85" r="0.50" fill="#14223a"/>
<circle cx="383.68" cy="201.56" r="0.50" fill="#14223a"/>
<circle cx="384.01" cy="204.64" r="0.50" fill="#14223a"/>
<circle cx="385.37" cy="203.83" r="0.50" fill="#14223a"/>
<circle cx="385.76" cy="201.03" r="0.50" fill="#14223a"/>
<circle cx="382.58" cy="204.73" r="0.50" fill="#14223a"/>
<circle cx="383.77" cy="200.71" r="0.50" fill="#14223a"/>
<circle cx="385.31" cy="201.86" r="0.50" fill="#14223a"/>
<circle cx="383.45" cy="200.84" r="0.50" fill="#14223a"/>
<circle cx="383.31" cy="203.42" r="0.50" fill="#14223a"/>
<circle cx="384.16" cy="203.24" r="0.50" fill="#14223a"/>
<circle cx="384.55" cy="205.61" r="0.50" fill="#14223a"/>
<path d="M400.70,186.00 L399.60,190.00 L398.70,196.00 L398.50,205.00 L399.00,212.00 L399.90,216.00 L400.70,220.20 L401.70,220.20 L402.50,216.00 L403.40,212.00 L403.90,205.00 L403.70,196.00 L402.80,190.00 L401.70,186.00 Z" fill="#1f7068" stroke="#222" stroke-width="0.35"/>
<circle cx="401.66" cy="195.30" r="0.50" fill="#0c2420"/>
<circle cx="400.35" cy="203.18" r="0.50" fill="#0c2420"/>
<circle cx="400.31" cy="214.19" r="0.50" fill="#0c2420"/>
<circle cx="400.86" cy="195.73" r="0.50" fill="#0c2420"/>
<circle cx="400.24" cy="198.01" r="0.50" fill="#0c2420"/>
<circle cx="399.80" cy="203.26" r="0.50" fill="#0c2420"/>
<circle cx="402.83" cy="206.20" r="0.50" fill="#0c2420"/>
<circle cx="401.50" cy="218.08" r="0.50" fill="#0c2420"/>
<circle cx="402.48" cy="197.81" r="0.50" fill="#0c2420"/>
<circle cx="401.72" cy="205.00" r="0.50" fill="#0c2420"/>
<circle cx="401.36" cy="196.41" r="0.50" fill="#0c2420"/>
<circle cx="402.43" cy="206.17" r="0.50" fill="#0c2420"/>
<circle cx="400.16" cy="204.31" r="0.50" fill="#0c2420"/>
<circle cx="402.46" cy="213.62" r="0.50" fill="#0c2420"/>
<circle cx="400.15" cy="207.39" r="0.50" fill="#0c2420"/>
<circle cx="401.87" cy="206.51" r="0.50" fill="#0c2420"/>
<circle cx="402.01" cy="200.67" r="0.50" fill="#0c2420"/>
<circle cx="400.50" cy="206.74" r="0.50" fill="#0c2420"/>
<circle cx="400.37" cy="201.93" r="0.50" fill="#0c2420"/>
<circle cx="400.01" cy="214.24" r="0.50" fill="#0c2420"/>
<circle cx="401.28" cy="215.01" r="0.50" fill="#0c2420"/>
<circle cx="400.58" cy="206.09" r="0.50" fill="#0c2420"/>
<circle cx="402.38" cy="212.34" r="0.50" fill="#0c2420"/>
<circle cx="400.53" cy="196.60" r="0.50" fill="#0c2420"/>
<circle cx="401.55" cy="211.63" r="0.50" fill="#0c2420"/>
<circle cx="402.14" cy="196.97" r="0.50" fill="#0c2420"/>
<circle cx="402.70" cy="192.88" r="0.50" fill="#0c2420"/>
<circle cx="402.67" cy="194.11" r="0.50" fill="#0c2420"/>
<circle cx="401.55" cy="218.93" r="0.50" fill="#0c2420"/>
<circle cx="401.66" cy="217.81" r="0.50" fill="#0c2420"/>
<circle cx="401.23" cy="196.17" r="0.50" fill="#0c2420"/>
<circle cx="401.72" cy="202.16" r="0.50" fill="#0c2420"/>
<circle cx="399.65" cy="209.95" r="0.50" fill="#0c2420"/>
<circle cx="402.34" cy="189.10" r="0.50" fill="#0c2420"/>
<circle cx="400.81" cy="211.64" r="0.50" fill="#0c2420"/>
<circle cx="402.61" cy="210.31" r="0.50" fill="#0c2420"/>
<circle cx="400.56" cy="200.68" r="0.50" fill="#0c2420"/>
<circle cx="401.30" cy="186.45" r="0.50" fill="#0c2420"/>
<circle cx="399.82" cy="195.41" r="0.50" fill="#0c2420"/>
<circle cx="401.51" cy="198.25" r="0.50" fill="#0c2420"/>
<circle cx="400.84" cy="218.25" r="0.50" fill="#0c2420"/>
<circle cx="402.27" cy="207.61" r="0.50" fill="#0c2420"/>
<circle cx="400.87" cy="197.37" r="0.50" fill="#0c2420"/>
<circle cx="400.44" cy="211.50" r="0.50" fill="#0c2420"/>
<circle cx="401.05" cy="194.54" r="0.50" fill="#0c2420"/>
<circle cx="401.41" cy="191.31" r="0.50" fill="#0c2420"/>
<circle cx="402.37" cy="198.74" r="0.50" fill="#0c2420"/>
<circle cx="400.53" cy="207.89" r="0.50" fill="#0c2420"/>
<circle cx="399.79" cy="204.12" r="0.50" fill="#0c2420"/>
<circle cx="401.34" cy="210.77" r="0.50" fill="#0c2420"/>
<circle cx="402.55" cy="189.96" r="0.50" fill="#0c2420"/>
<circle cx="402.39" cy="193.03" r="0.50" fill="#0c2420"/>
<circle cx="400.31" cy="208.23" r="0.50" fill="#0c2420"/>
<circle cx="401.74" cy="216.02" r="0.50" fill="#0c2420"/>
<circle cx="401.98" cy="213.75" r="0.50" fill="#0c2420"/>
<circle cx="399.50" cy="199.20" r="0.50" fill="#0c2420"/>
<circle cx="399.65" cy="210.78" r="0.50" fill="#0c2420"/>
<circle cx="400.66" cy="188.12" r="0.50" fill="#0c2420"/>
<circle cx="401.49" cy="211.02" r="0.50" fill="#0c2420"/>
<circle cx="402.41" cy="204.84" r="0.50" fill="#0c2420"/>
<circle cx="401.76" cy="200.96" r="0.50" fill="#0c2420"/>
<circle cx="402.74" cy="199.83" r="0.50" fill="#0c2420"/>
<circle cx="401.19" cy="211.71" r="0.50" fill="#0c2420"/>
<circle cx="399.75" cy="207.11" r="0.50" fill="#0c2420"/>
<circle cx="399.84" cy="204.64" r="0.50" fill="#0c2420"/>
<circle cx="402.52" cy="195.31" r="0.50" fill="#0c2420"/>
<circle cx="402.16" cy="205.98" r="0.50" fill="#0c2420"/>
<circle cx="402.74" cy="195.86" r="0.50" fill="#0c2420"/>
<circle cx="400.14" cy="205.65" r="0.50" fill="#0c2420"/>
<circle cx="402.62" cy="208.27" r="0.50" fill="#0c2420"/>
<circle cx="400.01" cy="207.95" r="0.50" fill="#0c2420"/>
<circle cx="402.62" cy="203.95" r="0.50" fill="#0c2420"/>
<circle cx="401.20" cy="216.84" r="0.50" fill="#0c2420"/>
<circle cx="400.73" cy="219.48" r="0.50" fill="#0c2420"/>
<circle cx="400.63" cy="192.21" r="0.50" fill="#0c2420"/>
<circle cx="402.25" cy="210.20" r="0.50" fill="#0c2420"/>
<circle cx="402.38" cy="213.30" r="0.50" fill="#0c2420"/>
<circle cx="402.29" cy="213.96" r="0.50" fill="#0c2420"/>
<circle cx="400.47" cy="204.62" r="0.50" fill="#0c2420"/>
<circle cx="401.15" cy="217.89" r="0.50" fill="#0c2420"/>
<circle cx="401.23" cy="213.04" r="0.50" fill="#0c2420"/>
<circle cx="400.49" cy="188.64" r="0.50" fill="#0c2420"/>
<circle cx="399.75" cy="204.37" r="0.50" fill="#0c2420"/>
<circle cx="400.81" cy="207.71" r="0.50" fill="#0c2420"/>
<circle cx="401.00" cy="198.38" r="0.50" fill="#0c2420"/>
<circle cx="400.43" cy="197.19" r="0.50" fill="#0c2420"/>
<circle cx="402.88" cy="203.61" r="0.50" fill="#0c2420"/>
<circle cx="401.05" cy="210.07" r="0.50" fill="#0c2420"/>
<circle cx="400.42" cy="198.62" r="0.50" fill="#0c2420"/>
<circle cx="402.53" cy="211.89" r="0.50" fill="#0c2420"/>
<circle cx="401.86" cy="195.08" r="0.50" fill="#0c2420"/>
<circle cx="401.64" cy="194.29" r="0.50" fill="#0c2420"/>
<circle cx="401.63" cy="195.21" r="0.50" fill="#0c2420"/>
<circle cx="400.77" cy="218.74" r="0.50" fill="#0c2420"/>
<circle cx="401.16" cy="203.34" r="0.50" fill="#0c2420"/>
<circle cx="401.22" cy="217.22" r="0.50" fill="#0c2420"/>
<circle cx="401.05" cy="202.12" r="0.50" fill="#0c2420"/>
<circle cx="402.13" cy="201.48" r="0.50" fill="#0c2420"/>
<circle cx="402.73" cy="193.46" r="0.50" fill="#0c2420"/>
<circle cx="400.25" cy="188.84" r="0.50" fill="#0c2420"/>
<circle cx="402.51" cy="200.81" r="0.50" fill="#0c2420"/>
<circle cx="400.53" cy="196.64" r="0.50" fill="#0c2420"/>
<circle cx="399.84" cy="191.13" r="0.50" fill="#0c2420"/>
<circle cx="401.35" cy="198.03" r="0.50" fill="#0c2420"/>
<circle cx="401.24" cy="212.93" r="0.50" fill="#0c2420"/>
<circle cx="400.69" cy="204.78" r="0.50" fill="#0c2420"/>
<circle cx="401.47" cy="216.23" r="0.50" fill="#0c2420"/>
<circle cx="401.56" cy="190.53" r="0.50" fill="#0c2420"/>
<circle cx="401.42" cy="189.51" r="0.50" fill="#0c2420"/>
<circle cx="402.38" cy="199.27" r="0.50" fill="#0c2420"/>
<circle cx="402.07" cy="195.55" r="0.50" fill="#0c2420"/>
<circle cx="401.43" cy="206.38" r="0.50" fill="#0c2420"/>
<circle cx="400.42" cy="211.30" r="0.50" fill="#0c2420"/>
<circle cx="401.07" cy="208.23" r="0.50" fill="#0c2420"/>
<circle cx="401.30" cy="216.64" r="0.50" fill="#0c2420"/>
<circle cx="400.13" cy="205.45" r="0.50" fill="#0c2420"/>
<circle cx="401.31" cy="208.85" r="0.50" fill="#0c2420"/>
<circle cx="402.42" cy="201.43" r="0.50" fill="#0c2420"/>
<circle cx="401.62" cy="219.67" r="0.50" fill="#0c2420"/>
<circle cx="399.64" cy="202.15" r="0.50" fill="#0c2420"/>
<circle cx="401.49" cy="180.20" r="0.55" fill="#0c2420"/>
<circle cx="400.98" cy="182.00" r="0.55" fill="#0c2420"/>
<circle cx="401.02" cy="183.60" r="0.55" fill="#0c2420"/>
<circle cx="401.04" cy="185.00" r="0.55" fill="#0c2420"/>
<path d="M417.80,197.50 L417.50,200.00 L416.20,201.00 L414.20,202.00 L412.20,203.20 L410.70,204.50 L410.60,205.80 L411.70,206.80 L414.20,207.60 L416.70,208.20 L417.70,208.60 L418.70,208.60 L419.70,208.20 L422.20,207.60 L424.70,206.80 L425.80,205.80 L425.70,204.50 L424.20,203.20 L422.20,202.00 L420.20,201.00 L418.90,200.00 L418.60,197.50 Z" fill="#e8c23a" stroke="#222" stroke-width="0.35"/>
<circle cx="417.86" cy="205.63" r="0.50" fill="#2e2608"/>
<circle cx="418.77" cy="204.78" r="0.50" fill="#2e2608"/>
<circle cx="418.57" cy="206.18" r="0.50" fill="#2e2608"/>
<circle cx="419.21" cy="206.93" r="0.50" fill="#2e2608"/>
<circle cx="418.98" cy="208.27" r="0.50" fill="#2e2608"/>
<circle cx="417.99" cy="201.21" r="0.50" fill="#2e2608"/>
<circle cx="418.79" cy="201.63" r="0.50" fill="#2e2608"/>
<circle cx="417.09" cy="204.55" r="0.50" fill="#2e2608"/>
<circle cx="418.76" cy="203.04" r="0.50" fill="#2e2608"/>
<circle cx="419.08" cy="204.61" r="0.50" fill="#2e2608"/>
<circle cx="417.07" cy="204.88" r="0.50" fill="#2e2608"/>
<circle cx="418.34" cy="205.83" r="0.50" fill="#2e2608"/>
<circle cx="419.78" cy="207.06" r="0.50" fill="#2e2608"/>
<circle cx="419.36" cy="200.74" r="0.50" fill="#2e2608"/>
<circle cx="419.24" cy="205.90" r="0.50" fill="#2e2608"/>
<circle cx="417.95" cy="201.45" r="0.50" fill="#2e2608"/>
<circle cx="418.40" cy="205.27" r="0.50" fill="#2e2608"/>
<circle cx="418.10" cy="203.80" r="0.50" fill="#2e2608"/>
<circle cx="418.07" cy="202.17" r="0.50" fill="#2e2608"/>
<circle cx="417.10" cy="205.62" r="0.50" fill="#2e2608"/>
<circle cx="418.66" cy="206.92" r="0.50" fill="#2e2608"/>
<circle cx="418.31" cy="200.75" r="0.50" fill="#2e2608"/>
<circle cx="417.01" cy="205.51" r="0.50" fill="#2e2608"/>
<circle cx="419.56" cy="205.81" r="0.50" fill="#2e2608"/>
<circle cx="418.31" cy="204.31" r="0.50" fill="#2e2608"/>
<circle cx="416.70" cy="202.93" r="0.50" fill="#2e2608"/>
<circle cx="416.78" cy="208.08" r="0.50" fill="#2e2608"/>
<circle cx="417.46" cy="205.63" r="0.50" fill="#2e2608"/>
<circle cx="417.27" cy="204.79" r="0.50" fill="#2e2608"/>
<circle cx="418.47" cy="204.80" r="0.50" fill="#2e2608"/>
<circle cx="417.96" cy="204.07" r="0.50" fill="#2e2608"/>
<circle cx="418.97" cy="206.29" r="0.50" fill="#2e2608"/>
<circle cx="416.54" cy="204.92" r="0.50" fill="#2e2608"/>
<circle cx="417.99" cy="201.45" r="0.50" fill="#2e2608"/>
<circle cx="417.51" cy="200.89" r="0.50" fill="#2e2608"/>
<path d="M434.00,196.00 L432.20,198.00 L431.50,201.40 L432.10,204.00 L433.00,207.00 L433.60,209.00 L434.00,215.00 L434.70,223.00 L435.70,223.00 L436.40,215.00 L436.80,209.00 L437.40,207.00 L438.30,204.00 L438.90,201.40 L438.20,198.00 L436.40,196.00 Z" fill="#c04a34" stroke="#222" stroke-width="0.35"/>
<circle cx="435.36" cy="209.60" r="0.50" fill="#30100a"/>
<circle cx="435.37" cy="221.76" r="0.50" fill="#30100a"/>
<circle cx="435.19" cy="202.50" r="0.50" fill="#30100a"/>
<circle cx="436.26" cy="199.58" r="0.50" fill="#30100a"/>
<circle cx="436.12" cy="196.66" r="0.50" fill="#30100a"/>
<circle cx="435.88" cy="212.38" r="0.50" fill="#30100a"/>
<circle cx="434.87" cy="197.34" r="0.50" fill="#30100a"/>
<circle cx="434.86" cy="219.38" r="0.50" fill="#30100a"/>
<circle cx="436.20" cy="202.38" r="0.50" fill="#30100a"/>
<circle cx="435.82" cy="205.95" r="0.50" fill="#30100a"/>
<circle cx="435.04" cy="207.54" r="0.50" fill="#30100a"/>
<circle cx="435.91" cy="200.53" r="0.50" fill="#30100a"/>
<circle cx="435.24" cy="203.25" r="0.50" fill="#30100a"/>
<circle cx="434.03" cy="209.39" r="0.50" fill="#30100a"/>
<circle cx="434.33" cy="206.31" r="0.50" fill="#30100a"/>
<circle cx="434.27" cy="201.27" r="0.50" fill="#30100a"/>
<circle cx="435.17" cy="200.86" r="0.50" fill="#30100a"/>
<circle cx="434.09" cy="202.69" r="0.50" fill="#30100a"/>
<circle cx="433.54" cy="204.53" r="0.50" fill="#30100a"/>
<circle cx="436.06" cy="199.23" r="0.50" fill="#30100a"/>
<circle cx="436.18" cy="215.17" r="0.50" fill="#30100a"/>
<circle cx="434.21" cy="200.75" r="0.50" fill="#30100a"/>
<circle cx="435.35" cy="199.23" r="0.50" fill="#30100a"/>
<circle cx="435.19" cy="208.86" r="0.50" fill="#30100a"/>
<circle cx="435.05" cy="216.25" r="0.50" fill="#30100a"/>
<circle cx="435.99" cy="211.45" r="0.50" fill="#30100a"/>
<circle cx="436.28" cy="205.01" r="0.50" fill="#30100a"/>
<circle cx="434.94" cy="198.41" r="0.50" fill="#30100a"/>
<circle cx="434.85" cy="208.01" r="0.50" fill="#30100a"/>
<circle cx="435.02" cy="198.00" r="0.50" fill="#30100a"/>
<circle cx="435.80" cy="203.51" r="0.50" fill="#30100a"/>
<circle cx="435.03" cy="203.20" r="0.50" fill="#30100a"/>
<circle cx="434.93" cy="201.26" r="0.50" fill="#30100a"/>
<circle cx="436.18" cy="202.16" r="0.50" fill="#30100a"/>
<circle cx="436.06" cy="203.11" r="0.50" fill="#30100a"/>
<circle cx="434.30" cy="210.03" r="0.50" fill="#30100a"/>
<circle cx="435.43" cy="217.92" r="0.50" fill="#30100a"/>
<circle cx="434.78" cy="201.19" r="0.50" fill="#30100a"/>
<circle cx="435.72" cy="198.22" r="0.50" fill="#30100a"/>
<circle cx="434.42" cy="197.25" r="0.50" fill="#30100a"/>
<circle cx="435.09" cy="215.18" r="0.50" fill="#30100a"/>
<circle cx="435.27" cy="200.00" r="0.50" fill="#30100a"/>
<circle cx="435.07" cy="203.32" r="0.50" fill="#30100a"/>
<circle cx="436.76" cy="198.79" r="0.50" fill="#30100a"/>
<circle cx="434.88" cy="211.11" r="0.50" fill="#30100a"/>
<circle cx="434.49" cy="208.24" r="0.50" fill="#30100a"/>
<circle cx="433.52" cy="201.75" r="0.50" fill="#30100a"/>
<circle cx="436.29" cy="205.54" r="0.50" fill="#30100a"/>
<circle cx="436.79" cy="204.18" r="0.50" fill="#30100a"/>
<circle cx="435.23" cy="196.31" r="0.50" fill="#30100a"/>
<circle cx="434.78" cy="202.53" r="0.50" fill="#30100a"/>
<circle cx="435.25" cy="199.92" r="0.50" fill="#30100a"/>
<circle cx="435.52" cy="215.82" r="0.50" fill="#30100a"/>
<circle cx="435.75" cy="220.64" r="0.50" fill="#30100a"/>
<circle cx="436.70" cy="203.69" r="0.50" fill="#30100a"/>
<circle cx="436.64" cy="206.68" r="0.50" fill="#30100a"/>
<circle cx="434.38" cy="212.26" r="0.50" fill="#30100a"/>
<circle cx="434.07" cy="210.44" r="0.50" fill="#30100a"/>
<circle cx="436.31" cy="200.95" r="0.50" fill="#30100a"/>
<circle cx="434.39" cy="202.80" r="0.50" fill="#30100a"/>
<circle cx="433.56" cy="205.75" r="0.50" fill="#30100a"/>
<circle cx="433.64" cy="202.58" r="0.50" fill="#30100a"/>
<circle cx="433.89" cy="204.59" r="0.50" fill="#30100a"/>
<circle cx="433.94" cy="197.72" r="0.50" fill="#30100a"/>
<circle cx="436.67" cy="202.31" r="0.50" fill="#30100a"/>
<circle cx="436.40" cy="211.13" r="0.50" fill="#30100a"/>
<circle cx="435.11" cy="196.83" r="0.50" fill="#30100a"/>
<circle cx="435.56" cy="218.07" r="0.50" fill="#30100a"/>
<circle cx="434.93" cy="203.82" r="0.50" fill="#30100a"/>
<circle cx="434.88" cy="202.67" r="0.50" fill="#30100a"/>
<circle cx="436.34" cy="201.73" r="0.50" fill="#30100a"/>
<circle cx="434.27" cy="214.99" r="0.50" fill="#30100a"/>
<circle cx="435.47" cy="203.38" r="0.50" fill="#30100a"/>
<circle cx="435.58" cy="213.01" r="0.50" fill="#30100a"/>
<circle cx="434.60" cy="206.32" r="0.50" fill="#30100a"/>
<circle cx="434.36" cy="203.87" r="0.50" fill="#30100a"/>
<circle cx="436.03" cy="207.73" r="0.50" fill="#30100a"/>
<circle cx="435.48" cy="213.60" r="0.50" fill="#30100a"/>
<circle cx="436.36" cy="200.82" r="0.50" fill="#30100a"/>
<circle cx="436.85" cy="207.49" r="0.50" fill="#30100a"/>
<circle cx="435.34" cy="207.07" r="0.50" fill="#30100a"/>
<circle cx="435.28" cy="211.86" r="0.50" fill="#30100a"/>
<circle cx="435.51" cy="200.75" r="0.50" fill="#30100a"/>
<circle cx="435.51" cy="205.09" r="0.50" fill="#30100a"/>
<circle cx="434.85" cy="217.61" r="0.50" fill="#30100a"/>
<circle cx="433.82" cy="202.27" r="0.50" fill="#30100a"/>
<circle cx="435.91" cy="203.77" r="0.50" fill="#30100a"/>
<circle cx="434.96" cy="213.86" r="0.50" fill="#30100a"/>
<circle cx="434.45" cy="215.44" r="0.50" fill="#30100a"/>
<circle cx="434.55" cy="218.24" r="0.50" fill="#30100a"/>
<circle cx="434.68" cy="201.07" r="0.50" fill="#30100a"/>
<circle cx="436.53" cy="207.59" r="0.50" fill="#30100a"/>
<circle cx="434.87" cy="197.09" r="0.50" fill="#30100a"/>
<circle cx="435.06" cy="213.34" r="0.50" fill="#30100a"/>
<circle cx="434.79" cy="211.36" r="0.50" fill="#30100a"/>
<circle cx="435.48" cy="196.30" r="0.50" fill="#30100a"/>
<circle cx="434.66" cy="202.21" r="0.50" fill="#30100a"/>
<circle cx="435.14" cy="205.53" r="0.50" fill="#30100a"/>
<circle cx="436.07" cy="203.93" r="0.50" fill="#30100a"/>
<circle cx="435.33" cy="206.10" r="0.50" fill="#30100a"/>
<circle cx="436.86" cy="198.06" r="0.50" fill="#30100a"/>
<circle cx="433.52" cy="202.72" r="0.50" fill="#30100a"/>
<circle cx="434.56" cy="204.30" r="0.50" fill="#30100a"/>
<circle cx="436.63" cy="204.04" r="0.50" fill="#30100a"/>
<circle cx="435.84" cy="197.58" r="0.50" fill="#30100a"/>
<circle cx="434.76" cy="205.00" r="0.50" fill="#30100a"/>
<circle cx="434.26" cy="207.18" r="0.50" fill="#30100a"/>
<circle cx="435.70" cy="200.97" r="0.50" fill="#30100a"/>
<circle cx="436.34" cy="202.26" r="0.50" fill="#30100a"/>
<circle cx="433.81" cy="200.01" r="0.50" fill="#30100a"/>
<circle cx="435.24" cy="196.03" r="0.50" fill="#30100a"/>
<circle cx="436.18" cy="208.82" r="0.50" fill="#30100a"/>
<circle cx="434.83" cy="214.80" r="0.50" fill="#30100a"/>
<circle cx="435.57" cy="202.88" r="0.50" fill="#30100a"/>
<circle cx="436.35" cy="203.40" r="0.50" fill="#30100a"/>
<circle cx="434.74" cy="204.65" r="0.50" fill="#30100a"/>
<circle cx="434.89" cy="208.84" r="0.50" fill="#30100a"/>
<circle cx="436.34" cy="204.45" r="0.50" fill="#30100a"/>
<circle cx="434.79" cy="197.98" r="0.50" fill="#30100a"/>
<circle cx="435.51" cy="202.47" r="0.50" fill="#30100a"/>
<path d="M458.00,177.40 L457.60,190.00 L457.20,204.00 L456.30,209.00 L455.10,213.00 L454.30,217.00 L454.60,220.00 L455.90,221.50 L457.70,222.20 L459.30,222.20 L461.10,221.50 L462.40,220.00 L462.70,217.00 L461.90,213.00 L460.70,209.00 L459.80,204.00 L459.40,190.00 L459.00,177.40 Z" fill="#3a68a8" stroke="#222" stroke-width="0.35"/>
<circle cx="457.75" cy="192.17" r="0.50" fill="#14223a"/>
<circle cx="457.65" cy="204.87" r="0.50" fill="#14223a"/>
<circle cx="457.56" cy="217.42" r="0.50" fill="#14223a"/>
<circle cx="459.68" cy="219.65" r="0.50" fill="#14223a"/>
<circle cx="458.08" cy="218.08" r="0.50" fill="#14223a"/>
<circle cx="457.14" cy="217.58" r="0.50" fill="#14223a"/>
<circle cx="459.77" cy="214.73" r="0.50" fill="#14223a"/>
<circle cx="457.99" cy="201.16" r="0.50" fill="#14223a"/>
<circle cx="459.35" cy="194.78" r="0.50" fill="#14223a"/>
<circle cx="457.02" cy="211.80" r="0.50" fill="#14223a"/>
<circle cx="458.21" cy="197.77" r="0.50" fill="#14223a"/>
<circle cx="458.51" cy="190.27" r="0.50" fill="#14223a"/>
<circle cx="459.10" cy="187.61" r="0.50" fill="#14223a"/>
<circle cx="458.60" cy="217.12" r="0.50" fill="#14223a"/>
<circle cx="458.51" cy="181.76" r="0.50" fill="#14223a"/>
<circle cx="458.35" cy="219.74" r="0.50" fill="#14223a"/>
<circle cx="458.79" cy="212.94" r="0.50" fill="#14223a"/>
<circle cx="459.03" cy="212.38" r="0.50" fill="#14223a"/>
<circle cx="457.86" cy="202.47" r="0.50" fill="#14223a"/>
<circle cx="457.95" cy="198.79" r="0.50" fill="#14223a"/>
<circle cx="459.13" cy="195.85" r="0.50" fill="#14223a"/>
<circle cx="456.84" cy="208.54" r="0.50" fill="#14223a"/>
<circle cx="459.19" cy="193.33" r="0.50" fill="#14223a"/>
<circle cx="457.27" cy="217.94" r="0.50" fill="#14223a"/>
<circle cx="459.34" cy="216.40" r="0.50" fill="#14223a"/>
<circle cx="458.95" cy="196.08" r="0.50" fill="#14223a"/>
<circle cx="457.35" cy="206.52" r="0.50" fill="#14223a"/>
<circle cx="458.51" cy="180.11" r="0.50" fill="#14223a"/>
<circle cx="459.47" cy="208.49" r="0.50" fill="#14223a"/>
<circle cx="459.17" cy="217.97" r="0.50" fill="#14223a"/>
<circle cx="457.29" cy="206.92" r="0.50" fill="#14223a"/>
<circle cx="459.84" cy="220.83" r="0.50" fill="#14223a"/>
<circle cx="458.66" cy="217.86" r="0.50" fill="#14223a"/>
<circle cx="458.44" cy="181.67" r="0.50" fill="#14223a"/>
<circle cx="457.89" cy="209.01" r="0.50" fill="#14223a"/>
<circle cx="457.94" cy="182.93" r="0.50" fill="#14223a"/>
<circle cx="457.92" cy="213.40" r="0.50" fill="#14223a"/>
<circle cx="459.71" cy="214.74" r="0.50" fill="#14223a"/>
<circle cx="459.40" cy="200.95" r="0.50" fill="#14223a"/>
<circle cx="459.00" cy="216.55" r="0.50" fill="#14223a"/>
<circle cx="457.63" cy="210.38" r="0.50" fill="#14223a"/>
<circle cx="457.36" cy="216.29" r="0.50" fill="#14223a"/>
<circle cx="458.07" cy="196.54" r="0.50" fill="#14223a"/>
<circle cx="457.84" cy="187.52" r="0.50" fill="#14223a"/>
<circle cx="457.55" cy="221.35" r="0.50" fill="#14223a"/>
<circle cx="457.98" cy="181.50" r="0.50" fill="#14223a"/>
<circle cx="457.54" cy="205.41" r="0.50" fill="#14223a"/>
<circle cx="458.94" cy="211.99" r="0.50" fill="#14223a"/>
<circle cx="458.96" cy="216.12" r="0.50" fill="#14223a"/>
<circle cx="458.40" cy="186.86" r="0.50" fill="#14223a"/>
<circle cx="458.55" cy="197.91" r="0.50" fill="#14223a"/>
<circle cx="459.07" cy="190.85" r="0.50" fill="#14223a"/>
<circle cx="458.16" cy="184.92" r="0.50" fill="#14223a"/>
<circle cx="458.51" cy="216.33" r="0.50" fill="#14223a"/>
<circle cx="460.10" cy="209.02" r="0.50" fill="#14223a"/>
<circle cx="459.14" cy="219.25" r="0.50" fill="#14223a"/>
<circle cx="457.25" cy="205.13" r="0.50" fill="#14223a"/>
<circle cx="458.90" cy="215.28" r="0.50" fill="#14223a"/>
<circle cx="458.47" cy="195.53" r="0.50" fill="#14223a"/>
<circle cx="456.95" cy="218.04" r="0.50" fill="#14223a"/>
<circle cx="458.99" cy="186.66" r="0.50" fill="#14223a"/>
<circle cx="459.58" cy="215.86" r="0.50" fill="#14223a"/>
<circle cx="457.06" cy="213.09" r="0.50" fill="#14223a"/>
<circle cx="459.54" cy="217.30" r="0.50" fill="#14223a"/>
<circle cx="458.39" cy="178.08" r="0.50" fill="#14223a"/>
<circle cx="459.01" cy="222.05" r="0.50" fill="#14223a"/>
<circle cx="459.62" cy="212.22" r="0.50" fill="#14223a"/>
<circle cx="457.94" cy="201.10" r="0.50" fill="#14223a"/>
<circle cx="458.49" cy="219.87" r="0.50" fill="#14223a"/>
<circle cx="459.71" cy="205.76" r="0.50" fill="#14223a"/>
<circle cx="459.21" cy="215.45" r="0.50" fill="#14223a"/>
<circle cx="460.07" cy="207.54" r="0.50" fill="#14223a"/>
<circle cx="459.55" cy="209.32" r="0.50" fill="#14223a"/>
<circle cx="459.21" cy="196.54" r="0.50" fill="#14223a"/>
<circle cx="459.08" cy="220.12" r="0.50" fill="#14223a"/>
<circle cx="457.95" cy="202.83" r="0.50" fill="#14223a"/>
<circle cx="458.82" cy="188.85" r="0.50" fill="#14223a"/>
<circle cx="458.92" cy="201.14" r="0.50" fill="#14223a"/>
<circle cx="458.60" cy="222.08" r="0.50" fill="#14223a"/>
<circle cx="458.10" cy="221.64" r="0.50" fill="#14223a"/>
<circle cx="458.53" cy="213.58" r="0.50" fill="#14223a"/>
<circle cx="457.51" cy="202.77" r="0.50" fill="#14223a"/>
<circle cx="458.31" cy="217.59" r="0.50" fill="#14223a"/>
<circle cx="458.95" cy="217.36" r="0.50" fill="#14223a"/>
<circle cx="458.05" cy="213.95" r="0.50" fill="#14223a"/>
<circle cx="459.91" cy="215.74" r="0.50" fill="#14223a"/>
<circle cx="458.90" cy="201.66" r="0.50" fill="#14223a"/>
<circle cx="457.77" cy="199.25" r="0.50" fill="#14223a"/>
<circle cx="456.91" cy="220.36" r="0.50" fill="#14223a"/>
<circle cx="457.98" cy="209.29" r="0.50" fill="#14223a"/>
<circle cx="460.16" cy="220.07" r="0.50" fill="#14223a"/>
<circle cx="458.01" cy="213.46" r="0.50" fill="#14223a"/>
<circle cx="457.82" cy="218.17" r="0.50" fill="#14223a"/>
<circle cx="456.99" cy="212.60" r="0.50" fill="#14223a"/>
<circle cx="457.81" cy="215.10" r="0.50" fill="#14223a"/>
<circle cx="458.52" cy="218.20" r="0.50" fill="#14223a"/>
<circle cx="460.17" cy="217.10" r="0.50" fill="#14223a"/>
<circle cx="459.70" cy="218.03" r="0.50" fill="#14223a"/>
<circle cx="458.58" cy="182.66" r="0.50" fill="#14223a"/>
<circle cx="458.18" cy="212.22" r="0.50" fill="#14223a"/>
<circle cx="457.91" cy="209.39" r="0.50" fill="#14223a"/>
<circle cx="457.79" cy="190.33" r="0.50" fill="#14223a"/>
<circle cx="458.77" cy="204.62" r="0.50" fill="#14223a"/>
<circle cx="458.97" cy="217.70" r="0.50" fill="#14223a"/>
<circle cx="457.12" cy="221.40" r="0.50" fill="#14223a"/>
<circle cx="459.03" cy="216.67" r="0.50" fill="#14223a"/>
<circle cx="459.39" cy="199.88" r="0.50" fill="#14223a"/>
<circle cx="458.01" cy="192.74" r="0.50" fill="#14223a"/>
<circle cx="457.11" cy="211.81" r="0.50" fill="#14223a"/>
<circle cx="458.40" cy="192.29" r="0.50" fill="#14223a"/>
<path d="M475.00,181.70 L474.30,193.00 L473.10,200.00 L472.10,208.70 L472.50,216.00 L473.70,225.00 L475.00,235.80 L476.00,235.80 L477.30,225.00 L478.50,216.00 L478.90,208.70 L477.90,200.00 L476.70,193.00 L476.00,181.70 Z" fill="#1f7068" stroke="#222" stroke-width="0.35"/>
<circle cx="474.26" cy="214.12" r="0.50" fill="#0c2420"/>
<circle cx="476.72" cy="221.19" r="0.50" fill="#0c2420"/>
<circle cx="473.83" cy="214.95" r="0.50" fill="#0c2420"/>
<circle cx="476.15" cy="227.39" r="0.50" fill="#0c2420"/>
<circle cx="474.48" cy="210.58" r="0.50" fill="#0c2420"/>
<circle cx="475.81" cy="221.23" r="0.50" fill="#0c2420"/>
<circle cx="475.34" cy="190.35" r="0.50" fill="#0c2420"/>
<circle cx="475.00" cy="202.88" r="0.50" fill="#0c2420"/>
<circle cx="477.01" cy="208.24" r="0.50" fill="#0c2420"/>
<circle cx="475.92" cy="201.86" r="0.50" fill="#0c2420"/>
<circle cx="475.38" cy="193.59" r="0.50" fill="#0c2420"/>
<circle cx="474.90" cy="226.43" r="0.50" fill="#0c2420"/>
<circle cx="475.53" cy="196.27" r="0.50" fill="#0c2420"/>
<circle cx="476.21" cy="226.12" r="0.50" fill="#0c2420"/>
<circle cx="473.82" cy="204.56" r="0.50" fill="#0c2420"/>
<circle cx="475.87" cy="235.07" r="0.50" fill="#0c2420"/>
<circle cx="475.57" cy="195.55" r="0.50" fill="#0c2420"/>
<circle cx="475.34" cy="195.02" r="0.50" fill="#0c2420"/>
<circle cx="474.50" cy="199.07" r="0.50" fill="#0c2420"/>
<circle cx="474.37" cy="195.98" r="0.50" fill="#0c2420"/>
<circle cx="475.27" cy="186.70" r="0.50" fill="#0c2420"/>
<circle cx="476.34" cy="224.58" r="0.50" fill="#0c2420"/>
<circle cx="475.87" cy="228.64" r="0.50" fill="#0c2420"/>
<circle cx="474.31" cy="207.28" r="0.50" fill="#0c2420"/>
<circle cx="473.91" cy="217.56" r="0.50" fill="#0c2420"/>
<circle cx="475.27" cy="205.06" r="0.50" fill="#0c2420"/>
<circle cx="475.02" cy="204.13" r="0.50" fill="#0c2420"/>
<circle cx="476.44" cy="229.36" r="0.50" fill="#0c2420"/>
<circle cx="474.60" cy="204.82" r="0.50" fill="#0c2420"/>
<circle cx="476.32" cy="225.95" r="0.50" fill="#0c2420"/>
<circle cx="474.71" cy="231.59" r="0.50" fill="#0c2420"/>
<circle cx="476.03" cy="225.55" r="0.50" fill="#0c2420"/>
<circle cx="476.90" cy="209.75" r="0.50" fill="#0c2420"/>
<circle cx="476.92" cy="223.42" r="0.50" fill="#0c2420"/>
<circle cx="473.92" cy="202.44" r="0.50" fill="#0c2420"/>
<circle cx="475.41" cy="206.36" r="0.50" fill="#0c2420"/>
<circle cx="474.29" cy="220.96" r="0.50" fill="#0c2420"/>
<circle cx="474.33" cy="198.77" r="0.50" fill="#0c2420"/>
<circle cx="475.60" cy="232.69" r="0.50" fill="#0c2420"/>
<circle cx="475.85" cy="189.57" r="0.50" fill="#0c2420"/>
<circle cx="474.23" cy="203.84" r="0.50" fill="#0c2420"/>
<circle cx="474.78" cy="217.70" r="0.50" fill="#0c2420"/>
<circle cx="476.03" cy="232.62" r="0.50" fill="#0c2420"/>
<circle cx="475.05" cy="183.11" r="0.50" fill="#0c2420"/>
<circle cx="476.41" cy="221.24" r="0.50" fill="#0c2420"/>
<circle cx="476.83" cy="202.03" r="0.50" fill="#0c2420"/>
<circle cx="475.38" cy="227.38" r="0.50" fill="#0c2420"/>
<circle cx="476.68" cy="201.55" r="0.50" fill="#0c2420"/>
<circle cx="475.77" cy="188.16" r="0.50" fill="#0c2420"/>
<circle cx="475.38" cy="208.59" r="0.50" fill="#0c2420"/>
<circle cx="475.78" cy="220.52" r="0.50" fill="#0c2420"/>
<circle cx="475.17" cy="188.27" r="0.50" fill="#0c2420"/>
<circle cx="476.04" cy="195.83" r="0.50" fill="#0c2420"/>
<circle cx="475.06" cy="198.76" r="0.50" fill="#0c2420"/>
<circle cx="476.22" cy="226.83" r="0.50" fill="#0c2420"/>
<circle cx="475.15" cy="189.64" r="0.50" fill="#0c2420"/>
<circle cx="475.25" cy="194.05" r="0.50" fill="#0c2420"/>
<circle cx="475.48" cy="198.16" r="0.50" fill="#0c2420"/>
<circle cx="475.52" cy="204.60" r="0.50" fill="#0c2420"/>
<circle cx="474.83" cy="204.93" r="0.50" fill="#0c2420"/>
<circle cx="473.91" cy="214.37" r="0.50" fill="#0c2420"/>
<circle cx="475.24" cy="199.27" r="0.50" fill="#0c2420"/>
<circle cx="474.36" cy="206.03" r="0.50" fill="#0c2420"/>
<circle cx="475.30" cy="212.43" r="0.50" fill="#0c2420"/>
<circle cx="476.53" cy="214.83" r="0.50" fill="#0c2420"/>
<circle cx="474.83" cy="230.21" r="0.50" fill="#0c2420"/>
<circle cx="474.87" cy="191.47" r="0.50" fill="#0c2420"/>
<circle cx="477.07" cy="198.84" r="0.50" fill="#0c2420"/>
<circle cx="476.03" cy="185.50" r="0.50" fill="#0c2420"/>
<circle cx="474.88" cy="202.39" r="0.50" fill="#0c2420"/>
<circle cx="475.92" cy="182.44" r="0.50" fill="#0c2420"/>
<circle cx="476.02" cy="233.27" r="0.50" fill="#0c2420"/>
<circle cx="476.41" cy="219.60" r="0.50" fill="#0c2420"/>
<circle cx="474.00" cy="221.76" r="0.50" fill="#0c2420"/>
<circle cx="476.18" cy="227.18" r="0.50" fill="#0c2420"/>
<circle cx="476.72" cy="207.19" r="0.50" fill="#0c2420"/>
<circle cx="476.85" cy="201.83" r="0.50" fill="#0c2420"/>
<circle cx="475.83" cy="234.43" r="0.50" fill="#0c2420"/>
<circle cx="475.15" cy="213.35" r="0.50" fill="#0c2420"/>
<circle cx="475.24" cy="198.97" r="0.50" fill="#0c2420"/>
<circle cx="474.98" cy="204.87" r="0.50" fill="#0c2420"/>
<circle cx="474.96" cy="228.54" r="0.50" fill="#0c2420"/>
<circle cx="476.33" cy="231.13" r="0.50" fill="#0c2420"/>
<circle cx="476.26" cy="198.10" r="0.50" fill="#0c2420"/>
<circle cx="474.02" cy="196.33" r="0.50" fill="#0c2420"/>
<circle cx="474.87" cy="219.81" r="0.50" fill="#0c2420"/>
<circle cx="476.17" cy="207.32" r="0.50" fill="#0c2420"/>
<circle cx="476.12" cy="215.60" r="0.50" fill="#0c2420"/>
<circle cx="476.60" cy="198.20" r="0.50" fill="#0c2420"/>
<circle cx="477.00" cy="202.76" r="0.50" fill="#0c2420"/>
<circle cx="475.49" cy="223.91" r="0.50" fill="#0c2420"/>
<circle cx="476.86" cy="203.51" r="0.50" fill="#0c2420"/>
<circle cx="475.00" cy="218.10" r="0.50" fill="#0c2420"/>
<circle cx="476.72" cy="206.83" r="0.50" fill="#0c2420"/>
<circle cx="474.53" cy="201.17" r="0.50" fill="#0c2420"/>
<circle cx="474.18" cy="210.75" r="0.50" fill="#0c2420"/>
<circle cx="474.01" cy="208.71" r="0.50" fill="#0c2420"/>
<circle cx="475.89" cy="203.22" r="0.50" fill="#0c2420"/>
<circle cx="476.74" cy="199.39" r="0.50" fill="#0c2420"/>
<circle cx="475.49" cy="227.02" r="0.50" fill="#0c2420"/>
<circle cx="476.62" cy="200.50" r="0.50" fill="#0c2420"/>
<circle cx="476.67" cy="228.00" r="0.50" fill="#0c2420"/>
<circle cx="474.51" cy="196.38" r="0.50" fill="#0c2420"/>
<circle cx="475.75" cy="224.13" r="0.50" fill="#0c2420"/>
<circle cx="477.02" cy="200.58" r="0.50" fill="#0c2420"/>
<circle cx="473.95" cy="206.23" r="0.50" fill="#0c2420"/>
<circle cx="475.75" cy="212.56" r="0.50" fill="#0c2420"/>
<circle cx="474.74" cy="232.09" r="0.50" fill="#0c2420"/>
<circle cx="475.44" cy="192.30" r="0.50" fill="#0c2420"/>
<circle cx="474.98" cy="205.07" r="0.50" fill="#0c2420"/>
<circle cx="476.16" cy="203.03" r="0.50" fill="#0c2420"/>
<circle cx="475.85" cy="186.48" r="0.50" fill="#0c2420"/>
<circle cx="473.83" cy="210.86" r="0.50" fill="#0c2420"/>
<circle cx="474.69" cy="195.62" r="0.50" fill="#0c2420"/>
<circle cx="475.73" cy="195.57" r="0.50" fill="#0c2420"/>
<circle cx="475.70" cy="228.37" r="0.50" fill="#0c2420"/>
<circle cx="475.20" cy="218.89" r="0.50" fill="#0c2420"/>
<circle cx="475.64" cy="229.52" r="0.50" fill="#0c2420"/>
<circle cx="475.08" cy="221.48" r="0.50" fill="#0c2420"/>
<circle cx="475.66" cy="199.34" r="0.50" fill="#0c2420"/>
<circle cx="475.39" cy="213.23" r="0.50" fill="#0c2420"/>
<circle cx="474.64" cy="195.17" r="0.50" fill="#0c2420"/>
<circle cx="475.71" cy="184.86" r="0.50" fill="#0c2420"/>
<circle cx="474.59" cy="203.16" r="0.50" fill="#0c2420"/>
<circle cx="475.79" cy="232.48" r="0.50" fill="#0c2420"/>
<circle cx="476.07" cy="230.09" r="0.50" fill="#0c2420"/>
<circle cx="474.90" cy="187.64" r="0.50" fill="#0c2420"/>
<circle cx="476.29" cy="200.61" r="0.50" fill="#0c2420"/>
<circle cx="475.31" cy="204.12" r="0.50" fill="#0c2420"/>
<circle cx="474.92" cy="211.74" r="0.50" fill="#0c2420"/>
<circle cx="475.31" cy="211.76" r="0.50" fill="#0c2420"/>
<circle cx="476.75" cy="215.03" r="0.50" fill="#0c2420"/>
<circle cx="477.03" cy="209.85" r="0.50" fill="#0c2420"/>
<circle cx="475.53" cy="203.48" r="0.50" fill="#0c2420"/>
<circle cx="474.59" cy="219.65" r="0.50" fill="#0c2420"/>
<circle cx="474.84" cy="189.82" r="0.50" fill="#0c2420"/>
<circle cx="475.28" cy="216.61" r="0.50" fill="#0c2420"/>
<circle cx="476.51" cy="205.95" r="0.50" fill="#0c2420"/>
<circle cx="477.19" cy="197.64" r="0.50" fill="#0c2420"/>
<circle cx="476.24" cy="226.73" r="0.50" fill="#0c2420"/>
<circle cx="474.75" cy="213.78" r="0.50" fill="#0c2420"/>
<circle cx="475.79" cy="222.05" r="0.50" fill="#0c2420"/>
<circle cx="473.99" cy="199.88" r="0.50" fill="#0c2420"/>
<circle cx="474.94" cy="213.02" r="0.50" fill="#0c2420"/>
<circle cx="474.74" cy="208.77" r="0.50" fill="#0c2420"/>
<circle cx="476.36" cy="212.84" r="0.50" fill="#0c2420"/>
<circle cx="476.42" cy="227.58" r="0.50" fill="#0c2420"/>
<circle cx="476.18" cy="200.49" r="0.50" fill="#0c2420"/>
<circle cx="475.02" cy="226.98" r="0.50" fill="#0c2420"/>
<circle cx="475.36" cy="233.49" r="0.50" fill="#0c2420"/>
<circle cx="475.06" cy="188.34" r="0.50" fill="#0c2420"/>
<circle cx="476.68" cy="216.18" r="0.50" fill="#0c2420"/>
<circle cx="474.98" cy="186.57" r="0.50" fill="#0c2420"/>
<circle cx="476.70" cy="206.09" r="0.50" fill="#0c2420"/>
<circle cx="474.27" cy="208.26" r="0.50" fill="#0c2420"/>
<circle cx="475.34" cy="227.06" r="0.50" fill="#0c2420"/>
<circle cx="475.13" cy="228.92" r="0.50" fill="#0c2420"/>
<circle cx="476.67" cy="225.73" r="0.50" fill="#0c2420"/>
<circle cx="475.48" cy="220.47" r="0.50" fill="#0c2420"/>
<circle cx="476.22" cy="200.89" r="0.50" fill="#0c2420"/>
<circle cx="476.73" cy="208.86" r="0.50" fill="#0c2420"/>
<circle cx="474.24" cy="226.28" r="0.50" fill="#0c2420"/>
<circle cx="474.38" cy="211.41" r="0.50" fill="#0c2420"/>
<circle cx="475.66" cy="192.93" r="0.50" fill="#0c2420"/>
<circle cx="477.04" cy="222.28" r="0.50" fill="#0c2420"/>
<circle cx="476.08" cy="199.16" r="0.50" fill="#0c2420"/>
<circle cx="475.13" cy="196.64" r="0.50" fill="#0c2420"/>
<circle cx="476.34" cy="200.11" r="0.50" fill="#0c2420"/>
<circle cx="475.97" cy="193.92" r="0.50" fill="#0c2420"/>
<circle cx="473.83" cy="215.52" r="0.50" fill="#0c2420"/>
<circle cx="475.00" cy="202.30" r="0.50" fill="#0c2420"/>
<circle cx="474.75" cy="199.87" r="0.50" fill="#0c2420"/>
<circle cx="474.00" cy="207.16" r="0.50" fill="#0c2420"/>
<circle cx="475.45" cy="187.74" r="0.50" fill="#0c2420"/>
<circle cx="476.47" cy="203.32" r="0.50" fill="#0c2420"/>
<circle cx="474.31" cy="210.67" r="0.50" fill="#0c2420"/>
<circle cx="474.83" cy="218.58" r="0.50" fill="#0c2420"/>
<circle cx="474.17" cy="217.48" r="0.50" fill="#0c2420"/>
<circle cx="475.12" cy="199.59" r="0.50" fill="#0c2420"/>
<circle cx="474.04" cy="219.56" r="0.50" fill="#0c2420"/>
<path d="M492.00,179.50 L491.30,182.00 L491.20,188.00 L491.70,194.00 L492.00,198.00 L491.90,212.00 L490.70,214.00 L488.00,217.00 L485.30,220.50 L486.00,221.50 L491.50,222.30 L493.50,222.30 L499.00,221.50 L499.70,220.50 L497.00,217.00 L494.30,214.00 L493.10,212.00 L493.00,198.00 L493.30,194.00 L493.80,188.00 L493.70,182.00 L493.00,179.50 Z" fill="#e8c23a" stroke="#222" stroke-width="0.35"/>
<circle cx="491.22" cy="220.91" r="0.50" fill="#2e2608"/>
<circle cx="492.07" cy="199.42" r="0.50" fill="#2e2608"/>
<circle cx="492.76" cy="209.03" r="0.50" fill="#2e2608"/>
<circle cx="491.79" cy="187.28" r="0.50" fill="#2e2608"/>
<circle cx="491.36" cy="221.56" r="0.50" fill="#2e2608"/>
<circle cx="491.71" cy="185.68" r="0.50" fill="#2e2608"/>
<circle cx="492.46" cy="218.05" r="0.50" fill="#2e2608"/>
<circle cx="492.38" cy="221.89" r="0.50" fill="#2e2608"/>
<circle cx="493.19" cy="187.81" r="0.50" fill="#2e2608"/>
<circle cx="492.81" cy="216.43" r="0.50" fill="#2e2608"/>
<circle cx="492.87" cy="182.70" r="0.50" fill="#2e2608"/>
<circle cx="492.81" cy="219.51" r="0.50" fill="#2e2608"/>
<circle cx="492.69" cy="181.33" r="0.50" fill="#2e2608"/>
<circle cx="493.47" cy="216.54" r="0.50" fill="#2e2608"/>
<circle cx="491.21" cy="217.75" r="0.50" fill="#2e2608"/>
<circle cx="492.43" cy="220.96" r="0.50" fill="#2e2608"/>
<circle cx="491.49" cy="218.60" r="0.50" fill="#2e2608"/>
<circle cx="491.19" cy="221.96" r="0.50" fill="#2e2608"/>
<circle cx="493.94" cy="216.51" r="0.50" fill="#2e2608"/>
<circle cx="492.30" cy="195.44" r="0.50" fill="#2e2608"/>
<circle cx="492.38" cy="220.05" r="0.50" fill="#2e2608"/>
<circle cx="492.06" cy="218.09" r="0.50" fill="#2e2608"/>
<circle cx="493.29" cy="215.09" r="0.50" fill="#2e2608"/>
<circle cx="492.88" cy="189.33" r="0.50" fill="#2e2608"/>
<circle cx="494.10" cy="215.70" r="0.50" fill="#2e2608"/>
<circle cx="492.27" cy="193.57" r="0.50" fill="#2e2608"/>
<circle cx="492.00" cy="185.71" r="0.50" fill="#2e2608"/>
<circle cx="492.76" cy="186.16" r="0.50" fill="#2e2608"/>
<circle cx="492.46" cy="194.05" r="0.50" fill="#2e2608"/>
<circle cx="492.52" cy="187.36" r="0.50" fill="#2e2608"/>
<circle cx="492.20" cy="219.30" r="0.50" fill="#2e2608"/>
<circle cx="493.58" cy="186.90" r="0.50" fill="#2e2608"/>
<circle cx="491.92" cy="216.95" r="0.50" fill="#2e2608"/>
<circle cx="493.52" cy="186.77" r="0.50" fill="#2e2608"/>
<circle cx="492.93" cy="220.45" r="0.50" fill="#2e2608"/>
<circle cx="492.44" cy="215.41" r="0.50" fill="#2e2608"/>
<circle cx="492.16" cy="189.38" r="0.50" fill="#2e2608"/>
<circle cx="494.15" cy="215.96" r="0.50" fill="#2e2608"/>
<circle cx="492.73" cy="220.27" r="0.50" fill="#2e2608"/>
<circle cx="491.68" cy="220.79" r="0.50" fill="#2e2608"/>
<circle cx="492.77" cy="216.83" r="0.50" fill="#2e2608"/>
<circle cx="491.57" cy="214.01" r="0.50" fill="#2e2608"/>
<circle cx="492.18" cy="203.68" r="0.50" fill="#2e2608"/>
<circle cx="492.62" cy="200.02" r="0.50" fill="#2e2608"/>
<circle cx="492.72" cy="220.97" r="0.50" fill="#2e2608"/>
<circle cx="492.25" cy="213.79" r="0.50" fill="#2e2608"/>
<circle cx="492.07" cy="221.22" r="0.50" fill="#2e2608"/>
<circle cx="491.70" cy="213.88" r="0.50" fill="#2e2608"/>
<circle cx="492.97" cy="219.09" r="0.50" fill="#2e2608"/>
<circle cx="492.03" cy="217.77" r="0.50" fill="#2e2608"/>
<circle cx="490.85" cy="218.14" r="0.50" fill="#2e2608"/>
<circle cx="491.46" cy="217.23" r="0.50" fill="#2e2608"/>
<circle cx="492.79" cy="200.01" r="0.50" fill="#2e2608"/>
<circle cx="491.85" cy="220.19" r="0.50" fill="#2e2608"/>
<circle cx="493.00" cy="216.61" r="0.50" fill="#2e2608"/>
<circle cx="493.54" cy="221.08" r="0.50" fill="#2e2608"/>
<circle cx="492.59" cy="203.09" r="0.50" fill="#2e2608"/>
<circle cx="492.85" cy="195.59" r="0.50" fill="#2e2608"/>
<circle cx="492.59" cy="218.37" r="0.50" fill="#2e2608"/>
<circle cx="492.24" cy="221.16" r="0.50" fill="#2e2608"/>
<path d="M509.00,168.60 L508.50,172.00 L507.90,185.00 L507.70,205.00 L507.70,225.00 L508.20,236.00 L509.00,239.40 L510.00,239.40 L510.80,236.00 L511.30,225.00 L511.30,205.00 L511.10,185.00 L510.50,172.00 L510.00,168.60 Z" fill="#c4643c" stroke="#222" stroke-width="0.35"/>
<circle cx="509.71" cy="200.06" r="0.50" fill="#30100a"/>
<circle cx="510.34" cy="183.76" r="0.50" fill="#30100a"/>
<circle cx="508.28" cy="229.39" r="0.50" fill="#30100a"/>
<circle cx="508.40" cy="216.91" r="0.50" fill="#30100a"/>
<circle cx="508.90" cy="204.39" r="0.50" fill="#30100a"/>
<circle cx="508.98" cy="199.22" r="0.50" fill="#30100a"/>
<circle cx="508.44" cy="202.94" r="0.50" fill="#30100a"/>
<circle cx="508.20" cy="185.02" r="0.50" fill="#30100a"/>
<circle cx="508.72" cy="205.63" r="0.50" fill="#30100a"/>
<circle cx="509.37" cy="231.13" r="0.50" fill="#30100a"/>
<circle cx="509.49" cy="223.90" r="0.50" fill="#30100a"/>
<circle cx="509.36" cy="233.68" r="0.50" fill="#30100a"/>
<circle cx="509.64" cy="189.95" r="0.50" fill="#30100a"/>
<circle cx="510.81" cy="217.43" r="0.50" fill="#30100a"/>
<circle cx="508.14" cy="211.55" r="0.50" fill="#30100a"/>
<circle cx="508.97" cy="212.53" r="0.50" fill="#30100a"/>
<circle cx="510.71" cy="216.90" r="0.50" fill="#30100a"/>
<circle cx="509.45" cy="176.09" r="0.50" fill="#30100a"/>
<circle cx="509.89" cy="178.41" r="0.50" fill="#30100a"/>
<circle cx="510.06" cy="187.18" r="0.50" fill="#30100a"/>
<circle cx="509.84" cy="229.34" r="0.50" fill="#30100a"/>
<circle cx="510.29" cy="188.60" r="0.50" fill="#30100a"/>
<circle cx="508.69" cy="225.69" r="0.50" fill="#30100a"/>
<circle cx="509.87" cy="202.03" r="0.50" fill="#30100a"/>
<circle cx="509.62" cy="178.59" r="0.50" fill="#30100a"/>
<circle cx="509.59" cy="178.39" r="0.50" fill="#30100a"/>
<circle cx="510.94" cy="200.16" r="0.50" fill="#30100a"/>
<circle cx="509.27" cy="207.97" r="0.50" fill="#30100a"/>
<circle cx="510.63" cy="211.51" r="0.50" fill="#30100a"/>
<circle cx="509.25" cy="204.69" r="0.50" fill="#30100a"/>
<circle cx="510.88" cy="228.41" r="0.50" fill="#30100a"/>
<circle cx="508.83" cy="221.68" r="0.50" fill="#30100a"/>
<circle cx="510.12" cy="186.35" r="0.50" fill="#30100a"/>
<circle cx="509.13" cy="213.24" r="0.50" fill="#30100a"/>
<circle cx="509.14" cy="198.36" r="0.50" fill="#30100a"/>
<circle cx="510.86" cy="217.45" r="0.50" fill="#30100a"/>
<circle cx="508.83" cy="189.36" r="0.50" fill="#30100a"/>
<circle cx="510.72" cy="211.32" r="0.50" fill="#30100a"/>
<circle cx="509.88" cy="217.97" r="0.50" fill="#30100a"/>
<circle cx="509.38" cy="209.46" r="0.50" fill="#30100a"/>
<circle cx="508.06" cy="224.26" r="0.50" fill="#30100a"/>
<circle cx="508.55" cy="191.73" r="0.50" fill="#30100a"/>
<circle cx="510.39" cy="199.49" r="0.50" fill="#30100a"/>
<circle cx="508.07" cy="198.64" r="0.50" fill="#30100a"/>
<circle cx="509.35" cy="215.40" r="0.50" fill="#30100a"/>
<circle cx="509.04" cy="230.64" r="0.50" fill="#30100a"/>
<circle cx="510.95" cy="198.96" r="0.50" fill="#30100a"/>
<circle cx="509.92" cy="205.09" r="0.50" fill="#30100a"/>
<circle cx="510.22" cy="179.12" r="0.50" fill="#30100a"/>
<circle cx="510.53" cy="192.62" r="0.50" fill="#30100a"/>
<circle cx="510.21" cy="170.97" r="0.50" fill="#30100a"/>
<circle cx="510.40" cy="212.24" r="0.50" fill="#30100a"/>
<circle cx="508.89" cy="189.59" r="0.50" fill="#30100a"/>
<circle cx="510.57" cy="229.71" r="0.50" fill="#30100a"/>
<circle cx="510.42" cy="178.79" r="0.50" fill="#30100a"/>
<circle cx="509.40" cy="199.97" r="0.50" fill="#30100a"/>
<circle cx="509.69" cy="178.00" r="0.50" fill="#30100a"/>
<circle cx="509.11" cy="191.01" r="0.50" fill="#30100a"/>
<circle cx="508.51" cy="199.78" r="0.50" fill="#30100a"/>
<circle cx="509.20" cy="202.44" r="0.50" fill="#30100a"/>
<circle cx="510.86" cy="225.79" r="0.50" fill="#30100a"/>
<circle cx="509.28" cy="225.17" r="0.50" fill="#30100a"/>
<circle cx="509.39" cy="194.51" r="0.50" fill="#30100a"/>
<circle cx="509.78" cy="216.63" r="0.50" fill="#30100a"/>
<circle cx="510.13" cy="234.71" r="0.50" fill="#30100a"/>
<circle cx="509.45" cy="189.03" r="0.50" fill="#30100a"/>
<circle cx="508.02" cy="205.36" r="0.50" fill="#30100a"/>
<circle cx="510.60" cy="192.07" r="0.50" fill="#30100a"/>
<circle cx="509.93" cy="224.44" r="0.50" fill="#30100a"/>
<circle cx="509.91" cy="230.91" r="0.50" fill="#30100a"/>
<circle cx="509.00" cy="202.82" r="0.50" fill="#30100a"/>
<circle cx="508.94" cy="174.81" r="0.50" fill="#30100a"/>
<circle cx="508.93" cy="198.92" r="0.50" fill="#30100a"/>
<circle cx="509.38" cy="238.85" r="0.50" fill="#30100a"/>
<circle cx="508.18" cy="226.81" r="0.50" fill="#30100a"/>
<circle cx="510.41" cy="208.43" r="0.50" fill="#30100a"/>
<circle cx="509.53" cy="192.08" r="0.50" fill="#30100a"/>
<circle cx="508.17" cy="213.00" r="0.50" fill="#30100a"/>
<circle cx="510.83" cy="222.69" r="0.50" fill="#30100a"/>
<circle cx="508.24" cy="226.00" r="0.50" fill="#30100a"/>
<circle cx="509.73" cy="186.91" r="0.50" fill="#30100a"/>
<circle cx="509.07" cy="208.31" r="0.50" fill="#30100a"/>
<circle cx="510.81" cy="217.34" r="0.50" fill="#30100a"/>
<circle cx="510.69" cy="204.36" r="0.50" fill="#30100a"/>
<circle cx="509.24" cy="174.89" r="0.50" fill="#30100a"/>
<circle cx="509.63" cy="229.25" r="0.50" fill="#30100a"/>
<circle cx="508.67" cy="214.20" r="0.50" fill="#30100a"/>
<circle cx="510.56" cy="231.01" r="0.50" fill="#30100a"/>
<circle cx="508.25" cy="197.52" r="0.50" fill="#30100a"/>
<circle cx="509.05" cy="223.32" r="0.50" fill="#30100a"/>
<circle cx="510.01" cy="184.23" r="0.50" fill="#30100a"/>
<circle cx="508.16" cy="211.32" r="0.50" fill="#30100a"/>
<circle cx="510.17" cy="192.09" r="0.50" fill="#30100a"/>
<circle cx="509.18" cy="210.78" r="0.50" fill="#30100a"/>
<circle cx="509.27" cy="169.99" r="0.50" fill="#30100a"/>
<circle cx="509.30" cy="169.60" r="0.50" fill="#30100a"/>
<circle cx="510.32" cy="197.60" r="0.50" fill="#30100a"/>
<circle cx="509.70" cy="205.68" r="0.50" fill="#30100a"/>
<circle cx="510.02" cy="191.49" r="0.50" fill="#30100a"/>
<circle cx="510.55" cy="179.25" r="0.50" fill="#30100a"/>
<circle cx="510.52" cy="220.19" r="0.50" fill="#30100a"/>
<circle cx="509.18" cy="195.86" r="0.50" fill="#30100a"/>
<circle cx="508.70" cy="175.56" r="0.50" fill="#30100a"/>
<circle cx="509.55" cy="239.00" r="0.50" fill="#30100a"/>
<circle cx="509.39" cy="170.02" r="0.50" fill="#30100a"/>
<circle cx="509.34" cy="214.32" r="0.50" fill="#30100a"/>
<circle cx="510.07" cy="177.27" r="0.50" fill="#30100a"/>
<circle cx="509.47" cy="183.17" r="0.50" fill="#30100a"/>
<circle cx="508.50" cy="212.80" r="0.50" fill="#30100a"/>
<circle cx="509.50" cy="220.19" r="0.50" fill="#30100a"/>
<circle cx="509.38" cy="184.91" r="0.50" fill="#30100a"/>
<circle cx="509.55" cy="180.94" r="0.50" fill="#30100a"/>
<circle cx="510.85" cy="187.85" r="0.50" fill="#30100a"/>
<circle cx="510.74" cy="191.12" r="0.50" fill="#30100a"/>
<circle cx="508.42" cy="233.81" r="0.50" fill="#30100a"/>
<circle cx="509.54" cy="187.55" r="0.50" fill="#30100a"/>
<circle cx="510.05" cy="237.24" r="0.50" fill="#30100a"/>
<circle cx="509.35" cy="198.67" r="0.50" fill="#30100a"/>
<circle cx="509.75" cy="194.03" r="0.50" fill="#30100a"/>
<circle cx="509.13" cy="190.89" r="0.50" fill="#30100a"/>
<circle cx="509.63" cy="181.82" r="0.50" fill="#30100a"/>
<circle cx="509.88" cy="220.72" r="0.50" fill="#30100a"/>
<circle cx="508.43" cy="184.82" r="0.50" fill="#30100a"/>
<circle cx="510.00" cy="225.03" r="0.50" fill="#30100a"/>
<circle cx="509.63" cy="204.39" r="0.50" fill="#30100a"/>
<circle cx="509.77" cy="223.19" r="0.50" fill="#30100a"/>
<circle cx="509.60" cy="174.17" r="0.50" fill="#30100a"/>
<circle cx="509.52" cy="230.59" r="0.50" fill="#30100a"/>
<circle cx="508.91" cy="191.76" r="0.50" fill="#30100a"/>
<circle cx="509.35" cy="216.93" r="0.50" fill="#30100a"/>
<circle cx="509.86" cy="205.77" r="0.50" fill="#30100a"/>
<circle cx="509.94" cy="217.44" r="0.50" fill="#30100a"/>
<circle cx="509.33" cy="208.63" r="0.50" fill="#30100a"/>
<circle cx="509.91" cy="206.24" r="0.50" fill="#30100a"/>
<circle cx="508.19" cy="210.00" r="0.50" fill="#30100a"/>
<circle cx="510.28" cy="185.66" r="0.50" fill="#30100a"/>
<circle cx="510.79" cy="216.18" r="0.50" fill="#30100a"/>
<circle cx="510.50" cy="207.94" r="0.50" fill="#30100a"/>
<circle cx="509.99" cy="215.59" r="0.50" fill="#30100a"/>
<circle cx="509.84" cy="234.50" r="0.50" fill="#30100a"/>
<circle cx="508.40" cy="221.24" r="0.50" fill="#30100a"/>
<circle cx="508.76" cy="227.86" r="0.50" fill="#30100a"/>
<circle cx="508.72" cy="207.85" r="0.50" fill="#30100a"/>
<circle cx="510.31" cy="194.88" r="0.50" fill="#30100a"/>
<circle cx="508.36" cy="191.08" r="0.50" fill="#30100a"/>
<circle cx="509.69" cy="207.40" r="0.50" fill="#30100a"/>
<circle cx="510.26" cy="198.28" r="0.50" fill="#30100a"/>
<circle cx="510.02" cy="198.25" r="0.50" fill="#30100a"/>
<circle cx="508.51" cy="182.56" r="0.50" fill="#30100a"/>
<circle cx="509.49" cy="190.22" r="0.50" fill="#30100a"/>
<circle cx="508.84" cy="196.09" r="0.50" fill="#30100a"/>
<circle cx="508.62" cy="225.71" r="0.50" fill="#30100a"/>
<circle cx="509.69" cy="188.57" r="0.50" fill="#30100a"/>
<circle cx="508.45" cy="211.49" r="0.50" fill="#30100a"/>
<circle cx="508.89" cy="190.50" r="0.50" fill="#30100a"/>
<circle cx="508.26" cy="222.03" r="0.50" fill="#30100a"/>
<circle cx="510.30" cy="223.02" r="0.50" fill="#30100a"/>
<circle cx="508.89" cy="178.34" r="0.50" fill="#30100a"/>
<circle cx="508.35" cy="212.77" r="0.50" fill="#30100a"/>
<circle cx="509.18" cy="207.08" r="0.50" fill="#30100a"/>
<circle cx="508.87" cy="219.73" r="0.50" fill="#30100a"/>
<circle cx="509.41" cy="231.61" r="0.50" fill="#30100a"/>
<circle cx="510.43" cy="183.33" r="0.50" fill="#30100a"/>
<circle cx="509.24" cy="208.95" r="0.50" fill="#30100a"/>
<circle cx="509.06" cy="169.27" r="0.50" fill="#30100a"/>
<circle cx="509.77" cy="198.03" r="0.50" fill="#30100a"/>
<circle cx="510.38" cy="212.18" r="0.50" fill="#30100a"/>
<circle cx="508.89" cy="230.59" r="0.50" fill="#30100a"/>
<circle cx="508.22" cy="212.34" r="0.50" fill="#30100a"/>
<circle cx="508.18" cy="197.78" r="0.50" fill="#30100a"/>
<circle cx="509.75" cy="191.97" r="0.50" fill="#30100a"/>
<circle cx="509.27" cy="227.23" r="0.50" fill="#30100a"/>
<circle cx="508.87" cy="186.13" r="0.50" fill="#30100a"/>
<circle cx="508.95" cy="234.74" r="0.50" fill="#30100a"/>
<circle cx="510.30" cy="190.85" r="0.50" fill="#30100a"/>
<circle cx="509.43" cy="205.14" r="0.50" fill="#30100a"/>
<circle cx="509.80" cy="227.02" r="0.50" fill="#30100a"/>
<circle cx="508.57" cy="195.07" r="0.50" fill="#30100a"/>
<circle cx="510.70" cy="229.39" r="0.50" fill="#30100a"/>
<circle cx="510.70" cy="214.90" r="0.50" fill="#30100a"/>
<circle cx="508.85" cy="228.53" r="0.50" fill="#30100a"/>
<circle cx="510.63" cy="228.72" r="0.50" fill="#30100a"/>
<circle cx="509.08" cy="230.62" r="0.50" fill="#30100a"/>
<circle cx="510.59" cy="185.14" r="0.50" fill="#30100a"/>
<circle cx="509.73" cy="169.63" r="0.50" fill="#30100a"/>
<circle cx="509.25" cy="196.04" r="0.50" fill="#30100a"/>
<circle cx="510.21" cy="203.99" r="0.50" fill="#30100a"/>
<circle cx="510.48" cy="176.67" r="0.50" fill="#30100a"/>
<circle cx="509.55" cy="236.45" r="0.50" fill="#30100a"/>
<circle cx="509.23" cy="187.38" r="0.50" fill="#30100a"/>
<circle cx="509.56" cy="233.77" r="0.50" fill="#30100a"/>
<circle cx="508.86" cy="210.90" r="0.50" fill="#30100a"/>
<circle cx="510.48" cy="226.94" r="0.50" fill="#30100a"/>
<circle cx="509.86" cy="231.29" r="0.50" fill="#30100a"/>
<circle cx="508.75" cy="197.62" r="0.50" fill="#30100a"/>
<circle cx="508.27" cy="187.31" r="0.50" fill="#30100a"/>
<circle cx="508.67" cy="174.49" r="0.50" fill="#30100a"/>
<circle cx="509.37" cy="210.58" r="0.50" fill="#30100a"/>
<circle cx="510.61" cy="223.85" r="0.50" fill="#30100a"/>
<circle cx="509.64" cy="234.00" r="0.50" fill="#30100a"/>
<circle cx="509.20" cy="169.02" r="0.50" fill="#30100a"/>
<circle cx="508.93" cy="234.99" r="0.50" fill="#30100a"/>
<circle cx="508.17" cy="221.10" r="0.50" fill="#30100a"/>
<circle cx="510.75" cy="197.85" r="0.50" fill="#30100a"/>
<circle cx="509.34" cy="189.87" r="0.50" fill="#30100a"/>
<circle cx="509.42" cy="196.27" r="0.50" fill="#30100a"/>
<circle cx="509.66" cy="185.87" r="0.50" fill="#30100a"/>
<circle cx="508.93" cy="173.93" r="0.50" fill="#30100a"/>
<circle cx="509.57" cy="182.55" r="0.50" fill="#30100a"/>
<circle cx="510.84" cy="213.08" r="0.50" fill="#30100a"/>
<circle cx="509.90" cy="190.04" r="0.50" fill="#30100a"/>
<circle cx="508.11" cy="213.76" r="0.50" fill="#30100a"/>
<circle cx="508.75" cy="174.45" r="0.50" fill="#30100a"/>
<circle cx="510.28" cy="194.91" r="0.50" fill="#30100a"/>
<circle cx="509.59" cy="229.38" r="0.50" fill="#30100a"/>
<circle cx="508.65" cy="200.31" r="0.50" fill="#30100a"/>
<circle cx="509.86" cy="193.82" r="0.50" fill="#30100a"/>
<circle cx="508.83" cy="192.06" r="0.50" fill="#30100a"/>
<circle cx="509.60" cy="184.72" r="0.50" fill="#30100a"/>
<circle cx="508.68" cy="237.18" r="0.50" fill="#30100a"/>
<circle cx="509.37" cy="193.14" r="0.50" fill="#30100a"/>
<circle cx="509.21" cy="194.69" r="0.50" fill="#30100a"/>
<circle cx="509.55" cy="200.75" r="0.50" fill="#30100a"/>
<circle cx="509.85" cy="228.52" r="0.50" fill="#30100a"/>
<circle cx="509.77" cy="211.56" r="0.50" fill="#30100a"/>
<circle cx="508.53" cy="219.02" r="0.50" fill="#30100a"/>
<circle cx="510.57" cy="180.25" r="0.50" fill="#30100a"/>
<circle cx="509.45" cy="201.38" r="0.50" fill="#30100a"/>
<circle cx="508.35" cy="221.24" r="0.50" fill="#30100a"/>
<circle cx="508.93" cy="201.50" r="0.50" fill="#30100a"/>
<circle cx="508.39" cy="201.11" r="0.50" fill="#30100a"/>
<circle cx="510.29" cy="224.87" r="0.50" fill="#30100a"/>
<circle cx="508.82" cy="178.46" r="0.50" fill="#30100a"/>
<circle cx="508.65" cy="226.01" r="0.50" fill="#30100a"/>
<circle cx="510.67" cy="211.87" r="0.50" fill="#30100a"/>
<circle cx="510.08" cy="189.21" r="0.50" fill="#30100a"/>
<circle cx="508.59" cy="197.37" r="0.50" fill="#30100a"/>
<circle cx="508.47" cy="186.11" r="0.50" fill="#30100a"/>
<circle cx="509.35" cy="237.56" r="0.50" fill="#30100a"/>
<circle cx="509.78" cy="183.39" r="0.50" fill="#30100a"/>
<circle cx="509.96" cy="186.72" r="0.50" fill="#30100a"/>
<circle cx="510.82" cy="195.79" r="0.50" fill="#30100a"/>
<circle cx="508.78" cy="190.40" r="0.50" fill="#30100a"/>
<circle cx="510.31" cy="175.59" r="0.50" fill="#30100a"/>
<circle cx="509.15" cy="214.12" r="0.50" fill="#30100a"/>
<circle cx="508.82" cy="194.97" r="0.50" fill="#30100a"/>
<circle cx="510.49" cy="200.67" r="0.50" fill="#30100a"/>
<circle cx="510.18" cy="208.48" r="0.50" fill="#30100a"/>
<circle cx="510.30" cy="206.00" r="0.50" fill="#30100a"/>
<circle cx="508.84" cy="175.06" r="0.50" fill="#30100a"/>
<circle cx="509.57" cy="204.72" r="0.50" fill="#30100a"/>
<circle cx="508.98" cy="193.29" r="0.50" fill="#30100a"/>
<circle cx="509.32" cy="176.00" r="0.50" fill="#30100a"/>
<circle cx="508.02" cy="220.17" r="0.50" fill="#30100a"/>
<circle cx="510.75" cy="210.30" r="0.50" fill="#30100a"/>
<circle cx="509.08" cy="209.14" r="0.50" fill="#30100a"/>
<circle cx="509.15" cy="172.16" r="0.50" fill="#30100a"/>
<circle cx="508.78" cy="186.85" r="0.50" fill="#30100a"/>
<circle cx="510.83" cy="228.34" r="0.50" fill="#30100a"/>
<circle cx="509.36" cy="180.32" r="0.50" fill="#30100a"/></svg>
</body></html>
